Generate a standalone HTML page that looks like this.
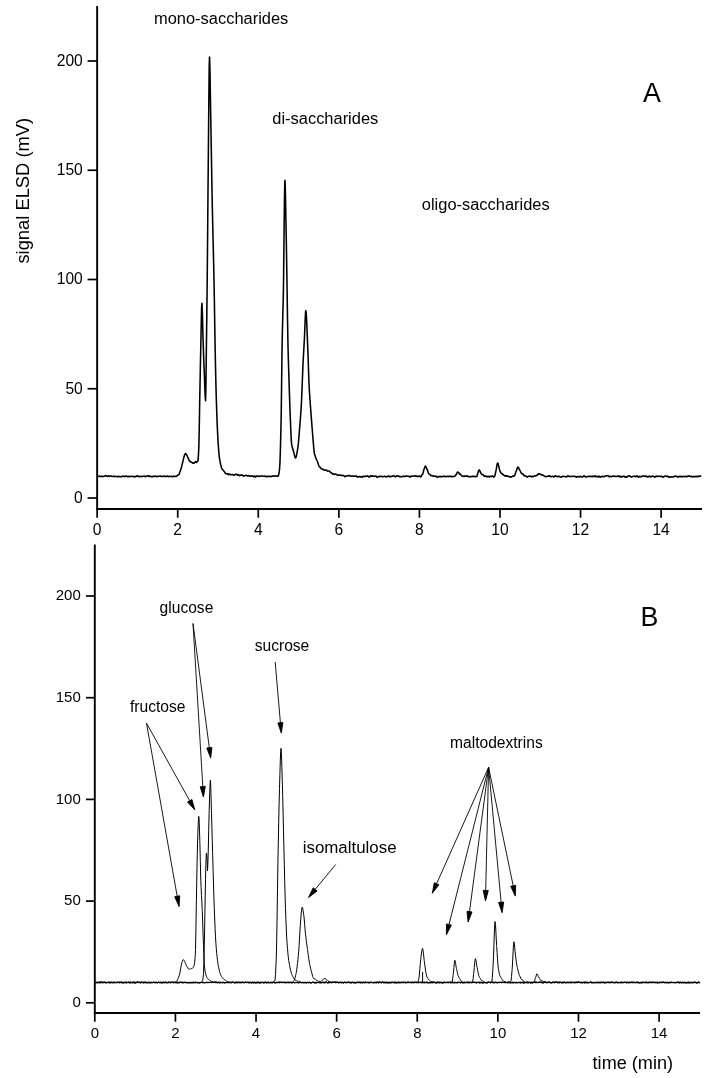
<!DOCTYPE html>
<html lang="en">
<head>
<meta charset="utf-8">
<title>ELSD chromatograms of saccharides</title>
<style>
  html, body { margin: 0; padding: 0; background: #fff; }
  body { width: 711px; height: 1078px; overflow: hidden; font-family: "Liberation Sans", Arial, sans-serif; }
  svg { display: block; }
</style>
</head>
<body>
<svg width="711" height="1078" viewBox="0 0 711 1078" role="img" aria-label="ELSD chromatograms A and B"><rect width="711" height="1078" fill="#fff"/><g font-family="'Liberation Sans', Arial, sans-serif" fill="#000"><g fill="none" stroke="#000" stroke-width="1.9"><path d="M97.15,6.0 V509.9" /><path d="M96.20,509.0 H702.0" /><path d="M97.15,509.0 v8.7" stroke-width="1.7"/><path d="M177.72,509.0 v8.7" stroke-width="1.7"/><path d="M258.28,509.0 v8.7" stroke-width="1.7"/><path d="M338.85,509.0 v8.7" stroke-width="1.7"/><path d="M419.42,509.0 v8.7" stroke-width="1.7"/><path d="M499.98,509.0 v8.7" stroke-width="1.7"/><path d="M580.55,509.0 v8.7" stroke-width="1.7"/><path d="M661.12,509.0 v8.7" stroke-width="1.7"/><path d="M97.15,498.00 h-9.6" stroke-width="1.7"/><path d="M97.15,388.75 h-9.6" stroke-width="1.7"/><path d="M97.15,279.50 h-9.6" stroke-width="1.7"/><path d="M97.15,170.25 h-9.6" stroke-width="1.7"/><path d="M97.15,61.00 h-9.6" stroke-width="1.7"/></g><g font-size="15.6"><text x="97.2" y="534.6" text-anchor="middle">0</text><text x="177.7" y="534.6" text-anchor="middle">2</text><text x="258.3" y="534.6" text-anchor="middle">4</text><text x="338.9" y="534.6" text-anchor="middle">6</text><text x="419.4" y="534.6" text-anchor="middle">8</text><text x="500.0" y="534.6" text-anchor="middle">10</text><text x="580.5" y="534.6" text-anchor="middle">12</text><text x="661.1" y="534.6" text-anchor="middle">14</text><text x="82.8" y="502.9" text-anchor="end">0</text><text x="82.8" y="393.6" text-anchor="end">50</text><text x="82.8" y="284.4" text-anchor="end">100</text><text x="82.8" y="175.2" text-anchor="end">150</text><text x="82.8" y="65.9" text-anchor="end">200</text></g><polyline fill="none" stroke="#000" stroke-width="1.55" stroke-linejoin="round" points="98.00,476.50 98.40,476.45 98.80,476.29 99.20,476.15 99.60,476.02 100.00,476.20 100.40,476.52 100.80,476.62 101.20,476.49 101.60,476.34 102.00,476.49 102.40,476.62 102.80,476.36 103.20,476.29 103.60,476.40 104.00,476.33 104.40,476.25 104.80,475.77 105.20,475.78 105.60,475.53 106.00,475.83 106.40,475.84 106.80,476.22 107.20,476.30 107.60,476.49 108.00,475.98 108.40,475.86 108.80,475.88 109.20,476.36 109.60,476.18 110.00,476.10 110.40,475.90 110.80,476.03 111.20,476.32 111.60,476.35 112.00,476.49 112.40,476.46 112.80,476.50 113.20,476.48 113.60,476.34 114.00,476.46 114.40,476.26 114.80,476.25 115.20,476.49 115.60,476.43 116.00,476.57 116.40,476.35 116.80,476.51 117.20,476.72 117.60,476.84 118.00,476.74 118.40,476.38 118.80,476.35 119.20,476.53 119.60,476.65 120.00,476.53 120.40,476.69 120.80,476.82 121.20,476.71 121.60,476.63 122.00,476.28 122.40,476.43 122.80,476.17 123.20,476.15 123.60,476.09 124.00,476.47 124.40,476.79 124.80,476.58 125.20,476.27 125.60,476.18 126.00,476.06 126.40,476.12 126.80,475.98 127.20,476.58 127.60,476.79 128.00,476.75 128.40,476.45 128.80,476.28 129.20,476.62 129.60,476.60 130.00,476.60 130.40,476.38 130.80,476.44 131.20,476.46 131.60,476.19 132.00,476.21 132.40,476.16 132.80,476.58 133.20,476.70 133.60,476.78 134.00,476.69 134.40,476.51 134.80,476.70 135.20,476.58 135.60,476.75 136.00,476.32 136.40,476.38 136.80,475.97 137.20,475.83 137.60,475.71 138.00,475.86 138.40,476.26 138.80,476.73 139.20,476.74 139.60,476.59 140.00,476.22 140.40,476.46 140.80,476.55 141.20,476.47 141.60,476.51 142.00,476.64 142.40,476.48 142.80,476.34 143.20,476.25 143.60,476.25 144.00,476.31 144.40,476.15 144.80,476.52 145.20,476.51 145.60,476.68 146.00,476.39 146.40,476.34 146.80,475.95 147.20,475.85 147.60,475.94 148.00,475.92 148.40,476.28 148.80,475.89 149.20,476.42 149.60,476.11 150.00,476.58 150.40,476.46 150.80,476.34 151.20,476.42 151.60,476.66 152.00,476.93 152.40,476.65 152.80,476.36 153.20,476.19 153.60,476.44 154.00,476.37 154.40,476.54 154.80,476.20 155.20,476.18 155.60,475.96 156.00,476.33 156.40,476.42 156.80,476.83 157.20,476.60 157.60,476.50 158.00,476.27 158.40,476.16 158.80,476.29 159.20,476.28 159.60,476.33 160.00,476.07 160.40,475.99 160.80,476.35 161.20,476.48 161.60,476.44 162.00,476.20 162.40,476.58 162.80,476.50 163.20,476.40 163.60,476.03 164.00,475.97 164.40,476.15 164.80,476.26 165.20,476.59 165.60,476.32 166.00,476.41 166.40,476.30 166.80,476.41 167.20,476.12 167.60,476.00 168.00,476.27 168.40,476.38 168.80,476.66 169.20,476.40 169.60,476.42 170.00,476.27 170.40,476.39 170.80,476.42 171.20,476.48 171.60,476.37 172.00,476.64 172.40,476.79 172.80,476.84 173.20,476.49 173.60,476.08 174.00,476.14 174.40,476.37 174.80,476.53 175.20,476.38 175.60,476.27 176.00,476.36 176.40,476.34 176.50,476.09 176.80,476.11 177.20,475.50 177.60,475.44 178.00,474.88 178.40,474.83 178.80,474.53 179.20,474.16 179.50,473.36 179.60,472.54 180.00,471.60 180.40,470.56 180.80,469.62 181.20,468.25 181.60,466.72 182.00,464.92 182.40,463.23 182.80,461.72 183.20,460.18 183.60,458.39 184.00,456.79 184.20,456.02 184.40,455.51 184.80,454.56 185.20,453.77 185.60,453.43 185.80,453.53 186.00,453.99 186.40,454.30 186.80,455.11 187.20,455.83 187.50,456.48 187.60,456.82 188.00,457.63 188.40,458.66 188.80,459.47 189.20,460.70 189.60,460.99 190.00,461.53 190.40,461.48 190.80,462.06 191.20,461.94 191.60,462.14 192.00,462.51 192.40,462.94 192.80,463.15 193.20,463.00 193.60,463.21 194.00,463.14 194.40,462.72 194.80,462.30 195.20,461.84 195.50,461.57 195.60,461.57 196.00,462.06 196.40,462.51 196.80,462.18 197.20,461.45 197.60,461.23 197.80,461.21 198.00,460.53 198.40,455.64 198.80,448.16 199.20,431.40 199.60,407.42 199.70,402.04 200.00,386.06 200.40,365.19 200.80,345.93 201.20,326.37 201.60,308.47 201.90,303.39 202.00,303.72 202.40,313.96 202.80,330.07 203.00,337.19 203.20,343.30 203.60,355.13 204.00,366.37 204.30,373.68 204.40,376.08 204.80,386.92 205.20,396.87 205.60,400.66 206.00,380.64 206.40,345.87 206.80,316.01 207.10,290.70 207.20,281.22 207.60,237.51 208.00,191.44 208.20,170.56 208.40,148.71 208.80,102.93 209.20,66.80 209.50,57.08 209.60,57.62 210.00,71.63 210.40,96.05 210.80,120.46 211.20,142.91 211.60,166.72 212.00,190.11 212.20,200.84 212.40,210.60 212.80,228.08 213.20,244.60 213.60,261.84 214.00,280.50 214.20,290.85 214.40,302.19 214.80,328.18 215.10,345.87 215.20,351.17 215.60,370.53 216.00,387.56 216.40,401.60 216.80,413.69 217.20,424.05 217.60,433.02 217.90,438.36 218.00,440.45 218.40,446.44 218.80,451.91 219.20,456.13 219.40,457.78 219.60,458.91 220.00,461.11 220.40,463.27 220.80,464.97 221.20,466.46 221.60,467.92 222.00,468.94 222.40,469.60 222.80,469.74 223.20,470.46 223.60,470.81 224.00,471.25 224.40,471.81 224.70,472.12 224.80,472.59 225.20,472.92 225.60,473.41 226.00,473.57 226.40,473.88 226.80,474.02 227.20,474.01 227.60,473.58 228.00,473.78 228.40,474.28 228.80,474.81 229.20,474.70 229.40,474.30 229.60,474.05 230.00,474.31 230.40,474.46 230.80,474.62 231.20,474.65 231.60,474.65 232.00,474.63 232.40,474.63 232.80,474.68 233.20,474.80 233.60,475.12 234.00,475.26 234.40,475.19 234.80,474.55 235.20,474.53 235.60,474.18 236.00,474.25 236.40,474.36 236.80,474.88 237.20,475.14 237.60,474.70 238.00,474.55 238.40,474.49 238.80,474.97 239.20,475.49 239.60,475.71 240.00,475.50 240.40,474.92 240.80,474.92 241.20,475.08 241.60,475.13 242.00,475.21 242.40,475.08 242.80,475.54 243.20,475.75 243.60,476.20 244.00,475.94 244.20,475.86 244.40,475.65 244.80,475.69 245.20,475.57 245.60,475.38 246.00,475.22 246.40,475.45 246.80,475.69 247.20,476.02 247.60,476.08 248.00,475.83 248.40,475.67 248.80,475.54 249.20,475.96 249.60,476.06 250.00,476.24 250.40,476.22 250.80,476.09 251.20,475.75 251.60,475.88 252.00,476.21 252.40,476.05 252.80,476.17 253.20,476.21 253.60,476.81 254.00,476.51 254.40,476.36 254.80,475.91 255.00,476.45 255.20,476.48 255.60,476.99 256.00,476.41 256.40,476.48 256.80,475.89 257.20,475.95 257.60,476.11 258.00,476.19 258.40,476.47 258.80,476.36 259.20,476.40 259.60,476.12 260.00,475.98 260.40,476.17 260.80,476.17 261.20,476.11 261.60,476.07 262.00,475.99 262.40,475.91 262.80,475.96 263.20,476.32 263.60,476.28 264.00,476.29 264.40,476.02 264.80,476.12 265.20,476.28 265.60,476.31 266.00,476.77 266.40,476.47 266.80,476.64 267.20,476.33 267.60,476.33 268.00,476.37 268.40,476.39 268.80,476.64 269.20,476.52 269.60,476.35 270.00,476.22 270.40,476.24 270.80,476.62 271.20,476.47 271.60,476.45 272.00,475.95 272.40,476.24 272.80,476.04 273.20,476.02 273.60,475.89 274.00,476.28 274.40,476.32 274.80,476.12 275.20,475.77 275.60,475.83 276.00,476.09 276.40,476.06 276.80,476.12 277.20,476.14 277.60,476.13 278.00,476.32 278.30,476.01 278.40,475.86 278.80,474.10 279.20,471.89 279.60,468.40 280.00,461.81 280.40,449.45 280.80,433.86 281.10,420.48 281.20,415.53 281.60,384.60 282.00,352.15 282.10,345.49 282.40,331.01 282.80,315.95 283.20,300.31 283.40,290.56 283.60,276.75 284.00,239.62 284.40,202.93 284.80,181.19 284.90,180.28 285.20,184.58 285.60,202.41 286.00,224.50 286.20,235.39 286.40,245.86 286.80,270.85 287.10,290.25 287.20,297.01 287.60,323.88 288.00,346.07 288.40,360.99 288.80,373.60 289.10,382.82 289.20,386.25 289.60,398.54 290.00,409.87 290.40,420.11 290.80,429.89 291.20,438.88 291.50,443.12 291.60,443.85 292.00,445.99 292.40,447.52 292.80,448.93 293.20,450.24 293.60,451.59 294.00,453.07 294.40,454.95 294.80,456.40 295.20,457.68 295.60,457.94 296.00,457.35 296.40,455.84 296.80,453.93 297.20,451.64 297.60,449.33 297.80,448.09 298.00,446.53 298.40,442.91 298.80,438.31 299.20,433.63 299.60,428.58 299.70,427.20 300.00,423.60 300.40,418.51 300.80,413.26 301.20,406.91 301.50,401.57 301.60,399.48 302.00,390.10 302.40,379.31 302.80,369.08 303.00,364.34 303.20,360.40 303.60,352.93 304.00,346.06 304.40,338.68 304.50,336.84 304.80,329.55 305.20,319.12 305.60,311.45 305.80,310.63 306.00,311.29 306.40,315.91 306.80,323.89 307.20,333.75 307.60,343.95 307.70,346.38 308.00,353.99 308.40,366.57 308.80,378.60 309.00,383.75 309.20,387.59 309.60,393.97 310.00,399.97 310.40,405.44 310.80,410.73 311.20,416.13 311.60,421.21 312.00,426.57 312.40,431.30 312.80,436.49 313.00,438.90 313.20,441.34 313.60,446.14 314.00,450.79 314.40,453.84 314.50,453.98 314.80,454.68 315.20,455.92 315.60,457.15 316.00,458.38 316.40,459.36 316.80,460.29 317.20,460.97 317.30,461.18 317.60,461.90 318.00,463.23 318.40,464.54 318.80,465.53 319.20,466.33 319.60,467.01 320.00,467.36 320.10,467.23 320.40,467.58 320.80,468.13 321.20,468.83 321.60,468.72 322.00,468.94 322.40,469.01 322.80,469.37 323.20,469.19 323.60,469.37 323.80,469.74 324.00,470.27 324.40,470.29 324.80,470.18 325.20,470.30 325.60,469.94 326.00,469.95 326.40,469.95 326.80,470.62 327.20,470.99 327.60,471.15 328.00,471.15 328.40,470.97 328.80,471.03 329.20,471.07 329.60,471.26 330.00,471.57 330.40,472.35 330.80,472.66 331.20,472.82 331.60,472.83 332.00,473.41 332.40,473.68 332.80,474.14 333.10,473.84 333.20,473.84 333.60,473.67 334.00,474.12 334.40,474.47 334.80,474.34 335.20,474.14 335.60,474.11 336.00,474.36 336.40,474.33 336.80,474.54 337.20,474.83 337.60,475.27 338.00,475.06 338.40,475.21 338.60,475.11 338.80,475.42 339.20,475.12 339.60,475.06 340.00,474.94 340.40,475.03 340.80,475.35 341.20,475.41 341.60,475.41 342.00,475.34 342.40,475.27 342.80,475.65 343.20,475.56 343.60,475.58 344.00,475.66 344.40,476.23 344.80,476.71 345.20,476.53 345.60,476.19 346.00,476.13 346.40,476.13 346.80,475.93 347.20,475.70 347.60,475.83 348.00,475.89 348.40,475.59 348.80,475.26 349.20,475.56 349.60,475.75 350.00,476.01 350.40,475.95 350.80,476.22 351.20,476.21 351.60,476.28 352.00,476.03 352.40,476.05 352.80,475.79 353.20,476.18 353.60,476.26 354.00,476.34 354.40,476.08 354.80,476.07 355.20,476.35 355.60,476.14 356.00,476.01 356.40,475.83 356.80,476.60 357.20,476.97 357.60,477.03 358.00,476.71 358.40,476.92 358.80,476.91 359.20,476.71 359.60,476.56 360.00,476.70 360.40,476.89 360.80,476.57 361.20,476.83 361.60,477.02 362.00,477.22 362.40,476.99 362.80,476.31 363.20,476.32 363.60,476.16 364.00,476.61 364.40,476.62 364.80,476.59 365.20,476.20 365.60,476.14 366.00,476.07 366.40,476.32 366.80,476.14 367.20,476.22 367.60,475.85 368.00,476.19 368.40,476.30 368.80,476.92 369.20,477.06 369.60,477.02 370.00,476.49 370.40,475.96 370.80,475.73 371.20,475.97 371.60,476.15 372.00,476.01 372.40,476.16 372.80,475.87 373.20,476.29 373.60,476.21 374.00,476.43 374.40,476.36 374.80,476.28 375.20,476.23 375.60,475.93 376.00,476.02 376.40,476.47 376.80,477.15 377.20,477.39 377.60,477.18 378.00,476.70 378.40,476.72 378.80,476.58 379.20,476.69 379.60,476.37 380.00,476.40 380.40,476.33 380.80,476.37 381.20,476.16 381.60,476.17 382.00,476.60 382.40,476.79 382.80,476.81 383.20,476.49 383.60,476.63 384.00,476.47 384.40,476.34 384.80,476.38 385.20,476.63 385.60,476.69 386.00,476.81 386.40,476.63 386.80,476.63 387.20,476.25 387.60,476.64 388.00,476.27 388.40,476.24 388.80,475.87 389.20,476.35 389.60,476.59 390.00,476.94 390.40,476.53 390.80,476.55 391.20,476.25 391.60,476.41 392.00,476.37 392.40,476.26 392.80,476.00 393.20,475.83 393.60,475.73 394.00,475.99 394.40,476.12 394.80,476.46 395.20,476.87 395.60,476.76 396.00,476.42 396.40,475.99 396.80,475.86 397.20,475.92 397.60,476.14 398.00,476.19 398.40,476.05 398.80,476.10 399.20,476.19 399.60,476.62 400.00,476.51 400.40,476.65 400.80,476.59 401.20,476.80 401.60,476.76 402.00,476.83 402.40,476.67 402.80,476.33 403.20,476.23 403.60,476.11 404.00,476.41 404.40,476.19 404.80,476.54 405.20,476.52 405.60,476.55 406.00,475.93 406.40,475.86 406.80,476.07 407.20,476.25 407.60,476.32 408.00,476.22 408.40,476.45 408.80,476.30 409.20,476.41 409.60,476.49 410.00,477.09 410.40,476.92 410.80,476.65 411.20,476.03 411.60,476.35 412.00,476.23 412.40,476.29 412.80,476.15 413.20,476.18 413.60,476.09 414.00,476.01 414.40,475.80 414.80,475.71 415.20,475.72 415.60,476.14 416.00,476.37 416.40,476.12 416.80,476.01 417.20,476.19 417.60,476.61 418.00,476.68 418.40,476.37 418.80,476.39 419.20,476.30 419.60,476.25 420.00,475.98 420.40,476.35 420.50,476.61 420.80,476.88 421.20,476.20 421.60,475.80 422.00,474.82 422.40,474.16 422.50,474.27 422.80,473.82 423.20,472.47 423.60,470.56 424.00,469.15 424.30,468.72 424.40,468.44 424.80,467.22 425.20,466.27 425.60,466.08 426.00,466.76 426.40,467.84 426.80,468.84 427.00,469.40 427.20,469.38 427.60,470.45 428.00,471.71 428.40,473.03 428.80,473.72 429.00,473.67 429.20,474.11 429.60,474.37 430.00,474.75 430.40,474.88 430.80,475.50 431.20,475.67 431.50,475.76 431.60,475.61 432.00,475.83 432.40,475.86 432.80,475.81 433.20,475.88 433.60,476.15 434.00,476.25 434.40,476.27 434.80,476.28 435.20,476.30 435.60,476.40 436.00,476.09 436.40,476.50 436.80,476.89 437.20,477.45 437.60,477.20 438.00,476.92 438.40,476.57 438.80,476.63 439.20,476.77 439.60,476.51 440.00,476.69 440.40,476.39 440.80,476.89 441.20,476.73 441.60,476.62 442.00,476.41 442.40,476.51 442.80,476.64 443.20,476.68 443.60,476.45 444.00,476.05 444.40,476.13 444.80,476.35 445.20,476.77 445.60,476.62 446.00,476.68 446.40,476.57 446.80,476.43 447.20,476.20 447.60,476.50 448.00,476.38 448.40,476.63 448.80,476.30 449.20,476.35 449.60,476.36 450.00,476.46 450.40,476.42 450.80,476.13 451.20,476.32 451.60,476.77 452.00,476.76 452.40,476.66 452.80,476.58 453.20,476.54 453.60,476.53 454.00,476.39 454.40,476.41 454.50,476.26 454.80,476.18 455.20,475.93 455.60,475.41 456.00,474.77 456.40,474.19 456.80,473.27 457.20,472.53 457.60,472.00 457.70,472.04 458.00,472.39 458.40,472.39 458.80,472.96 459.20,473.03 459.50,473.88 459.60,474.15 460.00,474.30 460.40,474.25 460.80,474.49 461.20,475.35 461.50,475.85 461.60,475.77 462.00,475.89 462.40,476.04 462.80,476.19 463.20,476.41 463.60,475.96 464.00,476.14 464.40,475.79 464.80,476.40 465.20,476.27 465.60,476.31 466.00,476.23 466.40,476.12 466.80,476.13 467.20,475.79 467.60,475.96 468.00,476.23 468.40,476.71 468.80,476.69 469.20,476.80 469.60,476.62 470.00,476.63 470.40,476.54 470.80,476.73 471.20,476.69 471.60,476.54 472.00,476.31 472.40,476.39 472.80,476.27 473.20,476.49 473.60,476.40 474.00,476.65 474.40,476.31 474.80,476.45 475.20,476.44 475.60,476.51 476.00,476.82 476.40,476.57 476.80,476.36 477.20,475.40 477.40,474.83 477.60,473.97 478.00,472.54 478.40,471.27 478.80,470.39 479.00,470.12 479.20,469.86 479.60,470.41 480.00,470.95 480.40,472.23 480.60,472.48 480.80,473.04 481.20,473.52 481.60,474.25 482.00,474.59 482.40,474.65 482.50,474.47 482.80,474.52 483.20,474.87 483.60,475.53 484.00,475.85 484.40,476.26 484.80,475.80 485.00,476.07 485.20,475.92 485.60,476.20 486.00,476.29 486.40,476.70 486.80,476.78 487.20,476.73 487.60,476.26 488.00,476.35 488.40,476.30 488.80,476.65 489.20,476.54 489.60,476.91 490.00,476.40 490.40,476.35 490.80,476.19 491.20,476.49 491.60,476.40 492.00,476.19 492.40,476.00 492.80,476.17 493.20,476.67 493.60,477.13 494.00,476.90 494.40,476.30 494.50,476.01 494.80,475.94 495.20,474.33 495.60,472.26 495.80,471.34 496.00,470.73 496.40,468.60 496.80,465.99 497.20,463.80 497.60,463.03 498.00,463.30 498.40,464.89 498.80,466.38 499.20,468.27 499.30,468.77 499.60,469.96 500.00,470.88 500.40,471.85 500.80,472.78 501.00,473.18 501.20,473.12 501.60,473.39 502.00,473.67 502.40,474.49 502.80,474.38 503.20,474.72 503.50,474.56 503.60,475.00 504.00,475.41 504.40,475.66 504.80,475.81 505.20,476.12 505.60,475.79 506.00,475.92 506.40,475.66 506.80,476.13 507.00,476.18 507.20,476.16 507.60,476.05 508.00,476.18 508.40,476.43 508.80,476.45 509.20,476.70 509.60,477.07 510.00,476.94 510.40,476.64 510.80,476.68 511.20,477.10 511.60,477.09 512.00,476.60 512.40,476.34 512.80,476.22 513.20,476.09 513.60,476.24 514.00,476.09 514.40,475.97 514.50,475.58 514.80,475.26 515.20,474.05 515.60,472.77 516.00,471.53 516.20,471.17 516.40,470.75 516.80,469.41 517.20,468.22 517.60,467.31 517.90,466.98 518.00,467.13 518.40,467.36 518.80,468.42 519.20,469.18 519.60,470.06 520.00,470.50 520.40,471.19 520.80,472.16 521.20,472.82 521.50,473.56 521.60,473.50 522.00,473.64 522.40,473.70 522.80,473.82 523.20,474.53 523.60,475.10 524.00,475.76 524.40,475.65 524.80,475.43 525.20,475.75 525.60,476.15 526.00,476.37 526.40,476.32 526.80,476.77 527.20,477.06 527.60,476.93 528.00,476.58 528.40,476.48 528.80,476.36 529.20,476.12 529.60,476.04 530.00,476.00 530.40,476.20 530.80,476.22 531.20,476.84 531.60,476.70 532.00,476.68 532.40,476.23 532.80,476.47 533.20,476.69 533.60,476.63 534.00,476.40 534.40,475.88 534.80,475.72 535.20,475.85 535.60,476.01 536.00,475.83 536.40,475.48 536.80,475.29 537.00,475.48 537.20,475.33 537.60,474.99 538.00,474.22 538.40,473.80 538.80,473.90 539.20,473.73 539.60,473.94 540.00,473.84 540.40,474.39 540.80,474.53 541.20,474.70 541.50,474.89 541.60,475.06 542.00,474.87 542.40,474.98 542.80,474.98 543.20,475.36 543.60,475.55 544.00,475.93 544.40,476.28 544.80,476.22 545.00,476.29 545.20,476.36 545.60,476.70 546.00,476.83 546.40,476.62 546.80,476.41 547.20,476.34 547.60,476.15 548.00,476.25 548.40,476.02 548.80,476.23 549.20,475.89 549.60,475.85 550.00,475.93 550.40,476.42 550.80,476.78 551.20,476.77 551.60,476.58 552.00,476.25 552.40,476.34 552.80,476.33 553.20,476.59 553.60,476.84 554.00,476.88 554.40,476.49 554.80,476.01 555.20,475.75 555.60,475.81 556.00,476.20 556.40,476.51 556.80,476.45 557.20,476.33 557.60,476.52 558.00,476.73 558.40,476.49 558.80,476.20 559.20,476.32 559.60,476.56 560.00,476.84 560.40,477.01 560.80,477.11 561.20,477.14 561.60,477.04 562.00,476.54 562.40,476.27 562.80,476.20 563.20,476.41 563.60,476.60 564.00,476.48 564.40,476.38 564.80,476.48 565.20,476.67 565.60,476.88 566.00,476.78 566.40,476.85 566.80,476.88 567.20,476.26 567.60,475.94 568.00,475.79 568.40,476.06 568.80,476.22 569.20,476.52 569.60,476.62 570.00,476.37 570.40,476.52 570.80,476.53 571.20,476.51 571.60,476.18 572.00,476.35 572.40,476.44 572.80,476.54 573.20,476.38 573.60,476.34 574.00,476.22 574.40,476.45 574.80,476.51 575.20,476.54 575.60,476.38 576.00,477.01 576.40,476.82 576.80,477.09 577.20,476.56 577.60,476.67 578.00,476.55 578.40,476.72 578.80,476.98 579.20,476.91 579.60,476.63 580.00,476.30 580.40,476.33 580.80,476.55 581.20,476.91 581.60,476.89 582.00,476.98 582.40,477.00 582.80,476.95 583.20,476.49 583.60,475.99 584.00,475.70 584.40,476.26 584.80,476.32 585.20,476.81 585.60,476.63 586.00,477.10 586.40,477.06 586.80,476.93 587.20,476.58 587.60,476.41 588.00,476.46 588.40,476.40 588.80,476.38 589.20,476.64 589.60,476.43 590.00,476.48 590.40,476.02 590.80,476.37 591.20,476.47 591.60,476.63 592.00,476.74 592.40,476.29 592.80,476.50 593.20,476.25 593.60,476.66 594.00,476.49 594.40,476.12 594.80,475.87 595.20,475.88 595.60,476.64 596.00,476.83 596.40,476.83 596.80,476.29 597.20,476.50 597.60,476.78 598.00,477.05 598.40,476.75 598.80,476.12 599.20,476.27 599.60,476.81 600.00,477.24 600.40,477.31 600.80,476.91 601.20,476.60 601.60,476.61 602.00,476.29 602.40,476.43 602.80,476.24 603.20,476.62 603.60,476.74 604.00,476.76 604.40,476.46 604.80,476.14 605.20,476.09 605.60,476.09 606.00,476.09 606.40,475.85 606.80,475.89 607.20,475.79 607.60,475.77 608.00,475.56 608.40,475.94 608.80,476.26 609.20,476.93 609.60,476.62 610.00,476.42 610.40,476.22 610.80,476.45 611.20,476.52 611.60,476.66 612.00,476.64 612.40,476.49 612.80,475.93 613.20,476.06 613.60,476.33 614.00,476.32 614.40,476.07 614.80,476.12 615.20,476.47 615.60,476.54 616.00,476.55 616.40,476.55 616.80,476.34 617.20,476.17 617.60,476.14 618.00,476.36 618.40,476.03 618.80,475.90 619.20,476.14 619.60,476.83 620.00,476.48 620.40,476.82 620.80,476.32 621.20,476.90 621.60,476.65 622.00,477.03 622.40,476.88 622.80,476.44 623.20,476.38 623.60,476.22 624.00,475.97 624.40,476.38 624.80,476.64 625.20,477.43 625.60,476.75 626.00,476.89 626.40,476.84 626.80,477.30 627.20,477.02 627.60,476.51 628.00,476.19 628.40,475.79 628.80,475.70 629.20,475.75 629.60,475.97 630.00,476.25 630.40,476.22 630.80,476.75 631.20,477.02 631.60,477.03 632.00,476.90 632.40,476.52 632.80,476.47 633.20,476.41 633.60,476.33 634.00,476.34 634.40,475.93 634.80,476.18 635.20,476.53 635.60,476.63 636.00,476.65 636.40,476.19 636.80,476.12 637.20,475.85 637.60,476.28 638.00,476.92 638.40,477.24 638.80,476.84 639.20,476.54 639.60,476.39 640.00,476.66 640.40,476.59 640.80,476.70 641.20,476.67 641.60,476.51 642.00,476.38 642.40,475.95 642.80,475.98 643.20,475.79 643.60,476.08 644.00,475.99 644.40,476.27 644.80,476.38 645.20,476.29 645.60,476.12 646.00,475.87 646.40,476.26 646.80,476.73 647.20,477.06 647.60,476.85 648.00,476.81 648.40,476.38 648.80,476.72 649.20,476.33 649.60,476.09 650.00,476.31 650.40,476.72 650.80,477.04 651.20,476.58 651.60,476.25 652.00,476.46 652.40,476.16 652.80,476.07 653.20,476.14 653.60,476.45 654.00,476.80 654.40,476.73 654.80,477.12 655.20,476.76 655.60,476.80 656.00,476.02 656.40,475.92 656.80,476.11 657.20,476.29 657.60,476.62 658.00,476.36 658.40,476.34 658.80,476.18 659.20,476.10 659.60,476.20 660.00,476.40 660.40,476.62 660.80,476.60 661.20,476.30 661.60,476.23 662.00,476.32 662.40,476.67 662.80,477.11 663.20,477.28 663.60,477.08 664.00,476.57 664.40,476.26 664.80,476.10 665.20,475.94 665.60,476.03 666.00,476.12 666.40,476.44 666.80,476.43 667.20,476.48 667.60,476.12 668.00,476.49 668.40,476.62 668.80,477.17 669.20,477.02 669.60,477.20 670.00,476.82 670.40,476.81 670.80,477.03 671.20,476.85 671.60,476.94 672.00,476.75 672.40,477.05 672.80,476.98 673.20,476.90 673.60,476.70 674.00,476.64 674.40,476.24 674.80,476.24 675.20,476.04 675.60,476.18 676.00,476.33 676.40,476.54 676.80,476.30 677.20,476.64 677.60,476.77 678.00,477.17 678.40,476.74 678.80,476.50 679.20,476.47 679.60,476.61 680.00,476.31 680.40,476.35 680.80,476.82 681.20,476.79 681.60,476.84 682.00,476.36 682.40,476.69 682.80,476.76 683.20,476.46 683.60,476.52 684.00,476.53 684.40,476.72 684.80,476.61 685.20,476.36 685.60,476.31 686.00,476.68 686.40,476.49 686.80,476.73 687.20,476.21 687.60,476.50 688.00,476.32 688.40,476.07 688.80,475.94 689.20,475.76 689.60,476.16 690.00,476.46 690.40,476.45 690.80,476.33 691.20,476.31 691.60,476.54 692.00,477.03 692.40,476.82 692.80,476.64 693.20,476.33 693.60,476.50 694.00,476.85 694.40,476.86 694.80,476.64 695.20,476.44 695.60,476.33 696.00,476.68 696.40,476.71 696.80,476.60 697.20,476.15 697.60,476.28 698.00,476.62 698.40,476.68 698.80,476.42 699.20,476.30 699.60,476.01 700.00,475.89 700.40,476.04 700.80,476.26 701.00,476.51"/><g font-size="16.45"><text x="154" y="24.1">mono-saccharides</text><text x="272.3" y="124">di-saccharides</text><text x="421.8" y="210">oligo-saccharides</text></g><text x="643" y="101.8" font-size="26.8">A</text><text transform="translate(28.8,263.6) rotate(-90)" font-size="18.35">signal ELSD (mV)</text><g fill="none" stroke="#000" stroke-width="1.9"><path d="M94.80,544.5 V1014.0" /><path d="M93.85,1013.0 H700.0" /><path d="M94.80,1013.0 v8.7" stroke-width="1.7"/><path d="M175.41,1013.0 v8.7" stroke-width="1.7"/><path d="M256.03,1013.0 v8.7" stroke-width="1.7"/><path d="M336.64,1013.0 v8.7" stroke-width="1.7"/><path d="M417.25,1013.0 v8.7" stroke-width="1.7"/><path d="M497.87,1013.0 v8.7" stroke-width="1.7"/><path d="M578.48,1013.0 v8.7" stroke-width="1.7"/><path d="M659.09,1013.0 v8.7" stroke-width="1.7"/><path d="M94.80,1002.80 h-8.8" stroke-width="1.7"/><path d="M94.80,901.10 h-8.8" stroke-width="1.7"/><path d="M94.80,799.40 h-8.8" stroke-width="1.7"/><path d="M94.80,697.70 h-8.8" stroke-width="1.7"/><path d="M94.80,596.00 h-8.8" stroke-width="1.7"/></g><g font-size="15.0"><text x="94.8" y="1038.3" text-anchor="middle">0</text><text x="175.4" y="1038.3" text-anchor="middle">2</text><text x="256.0" y="1038.3" text-anchor="middle">4</text><text x="336.6" y="1038.3" text-anchor="middle">6</text><text x="417.3" y="1038.3" text-anchor="middle">8</text><text x="497.9" y="1038.3" text-anchor="middle">10</text><text x="578.5" y="1038.3" text-anchor="middle">12</text><text x="659.1" y="1038.3" text-anchor="middle">14</text><text x="80.8" y="1006.9" text-anchor="end">0</text><text x="80.8" y="905.2" text-anchor="end">50</text><text x="80.8" y="803.5" text-anchor="end">100</text><text x="80.8" y="701.8" text-anchor="end">150</text><text x="80.8" y="600.1" text-anchor="end">200</text></g><polyline fill="none" stroke="#000" stroke-width="1" stroke-linejoin="round" points="95.50,982.73 95.90,982.82 96.30,982.77 96.70,982.90 97.10,982.91 97.50,982.85 97.90,982.65 98.30,982.61 98.70,982.54 99.10,982.45 99.50,982.36 99.90,982.20 100.30,982.17 100.70,982.15 101.10,982.37 101.50,982.16 101.90,982.15 102.30,982.21 102.70,982.46 103.10,982.35 103.50,982.44 103.90,982.25 104.30,982.38 104.70,982.48 105.10,982.56 105.50,982.51 105.90,982.48 106.30,982.53 106.70,982.56 107.10,982.43 107.50,982.64 107.90,982.37 108.30,982.21 108.70,981.92 109.10,982.08 109.50,982.08 109.90,982.10 110.30,982.30 110.70,982.29 111.10,982.43 111.50,982.45 111.90,982.47 112.30,982.47 112.70,982.65 113.10,982.80 113.50,982.69 113.90,982.45 114.30,982.27 114.70,982.40 115.10,982.53 115.50,982.55 115.90,982.48 116.30,982.51 116.70,982.56 117.10,982.61 117.50,982.31 117.90,982.26 118.30,982.16 118.70,982.61 119.10,982.67 119.50,982.67 119.90,982.29 120.30,982.32 120.70,982.49 121.10,982.60 121.50,982.91 121.90,982.84 122.30,983.02 122.70,982.77 123.10,982.83 123.50,982.42 123.90,982.36 124.30,982.27 124.70,982.44 125.10,982.15 125.50,982.29 125.90,982.27 126.30,982.51 126.70,982.35 127.10,982.37 127.50,982.49 127.90,982.35 128.30,982.25 128.70,982.23 129.10,982.43 129.50,982.51 129.90,982.39 130.30,982.25 130.70,982.29 131.10,982.54 131.50,982.51 131.90,982.73 132.30,982.68 132.70,982.77 133.10,982.66 133.50,982.34 133.90,982.16 134.30,981.87 134.70,982.02 135.10,982.22 135.50,982.32 135.90,982.40 136.30,982.14 136.70,982.28 137.10,982.07 137.50,982.28 137.90,982.15 138.30,982.19 138.70,982.09 139.10,982.01 139.50,982.17 139.90,982.44 140.30,982.66 140.70,982.52 141.10,982.33 141.50,982.12 141.90,982.32 142.30,982.15 142.70,982.45 143.10,982.32 143.50,982.50 143.90,982.37 144.30,982.58 144.70,982.74 145.10,982.84 145.50,982.71 145.90,982.84 146.30,982.87 146.70,982.83 147.10,982.86 147.50,982.71 147.90,982.74 148.30,982.41 148.70,982.34 149.10,982.44 149.50,982.38 149.90,982.52 150.30,982.46 150.70,982.68 151.10,982.28 151.50,982.22 151.90,982.27 152.30,982.47 152.70,982.50 153.10,982.07 153.50,982.27 153.90,982.17 154.30,982.62 154.70,982.27 155.10,982.46 155.50,982.31 155.90,982.68 156.30,982.45 156.70,982.40 157.10,982.60 157.50,982.61 157.90,982.60 158.30,982.25 158.70,982.22 159.10,982.48 159.50,982.77 159.90,982.81 160.30,982.40 160.70,982.32 161.10,982.58 161.50,982.93 161.90,982.93 162.30,982.66 162.70,982.52 163.10,982.16 163.50,982.08 163.90,982.25 164.30,982.34 164.70,982.86 165.10,982.74 165.50,982.74 165.90,982.53 166.30,982.77 166.70,982.93 167.10,982.65 167.50,982.45 167.90,982.57 168.30,982.68 168.70,982.52 169.10,982.46 169.50,982.55 169.90,982.51 170.30,982.31 170.70,982.19 171.10,982.38 171.50,982.45 171.90,982.72 172.00,982.78 172.30,982.54 172.70,982.42 173.10,982.41 173.50,982.66 173.90,982.69 174.30,982.42 174.70,982.15 175.10,982.05 175.50,981.88 175.90,981.61 176.00,981.59 176.30,981.49 176.70,981.39 177.10,980.50 177.50,979.71 177.90,978.74 178.30,977.93 178.70,977.12 179.10,975.84 179.50,974.84 179.90,973.03 180.30,971.02 180.70,968.54 181.10,966.24 181.50,964.05 181.80,963.03 181.90,962.60 182.30,961.53 182.70,960.15 183.10,959.76 183.30,959.56 183.50,959.74 183.90,959.87 184.30,960.80 184.70,961.36 185.00,962.00 185.10,962.30 185.50,963.33 185.90,964.39 186.30,965.45 186.70,966.35 187.00,966.75 187.10,966.69 187.50,967.10 187.90,967.98 188.30,968.60 188.70,969.13 189.10,969.19 189.50,969.16 189.90,969.21 190.30,969.09 190.70,969.03 191.10,968.59 191.50,968.49 191.90,968.15 192.00,968.34 192.30,968.26 192.70,967.81 193.10,967.46 193.50,966.76 193.90,966.01 194.30,964.69 194.70,962.19 195.10,957.75 195.30,954.75 195.50,949.41 195.90,929.18 196.30,905.58 196.40,900.51 196.70,884.20 197.10,861.98 197.50,844.95 197.90,832.51 198.30,822.22 198.70,816.47 198.80,816.33 199.10,819.58 199.50,830.79 199.80,840.29 199.90,843.53 200.30,860.44 200.70,877.02 200.80,880.20 201.10,887.46 201.50,895.47 201.90,902.69 202.20,909.37 202.30,911.61 202.70,922.94 203.10,934.88 203.30,940.21 203.50,945.31 203.90,955.49 204.30,963.46 204.40,965.16 204.70,968.09 205.10,971.28 205.50,973.10 205.90,974.73 206.00,975.00 206.30,976.22 206.70,977.04 207.10,977.85 207.50,978.32 207.90,978.84 208.30,979.21 208.50,979.32 208.70,979.31 209.10,979.73 209.50,980.14 209.90,980.68 210.30,980.65 210.70,980.99 211.10,981.27 211.50,981.75 211.90,981.85 212.00,981.77 212.30,981.80 212.70,981.66 213.10,981.81 213.50,981.76 213.90,981.87 214.30,982.11 214.70,982.20 215.10,982.25 215.50,982.11 215.90,982.20 216.30,982.15 216.70,982.16 217.10,982.15 217.50,982.23 217.90,982.32 218.30,982.27 218.70,982.65 219.10,982.87 219.50,983.02 219.90,982.74 220.00,982.86 220.30,982.84 220.70,982.84 221.10,982.58 221.50,982.57 221.90,982.78 222.30,982.74 222.70,982.99 223.10,982.67 223.50,982.77 223.90,982.33 224.30,982.71 224.70,982.57 225.10,982.70 225.50,982.57 225.90,982.80 226.30,982.65 226.70,982.47 227.10,982.10 227.50,982.28 227.90,982.31 228.30,982.46 228.70,982.34 229.10,982.30 229.50,982.25 229.90,982.42 230.30,982.68 230.70,982.52 231.10,982.43 231.50,982.15 231.90,982.49 232.30,982.38 232.70,982.42 233.10,982.20 233.50,982.43 233.90,982.47 234.30,982.59 234.70,982.54 235.10,982.49 235.50,982.30 235.90,982.33 236.30,982.41 236.70,982.60 237.10,982.66 237.50,982.79 237.90,982.66 238.30,982.41 238.70,982.45 239.10,982.81 239.50,982.81 239.90,982.43 240.30,982.14 240.70,982.18 241.10,982.12 241.50,982.21 241.90,982.10 242.30,982.16 242.70,982.28 243.10,982.36 243.50,982.52 243.90,982.48 244.30,982.69 244.70,982.65 245.10,982.57 245.50,982.34 245.90,982.64 246.30,982.72 246.70,982.68 247.10,982.44 247.50,982.45 247.90,982.67 248.30,982.92 248.70,983.02 249.10,982.87 249.50,982.60 249.90,982.23 250.30,982.34 250.70,982.38 251.10,982.93 251.50,982.91 251.90,982.60 252.30,982.13 252.70,982.13 253.10,982.25 253.50,982.22 253.90,982.15 254.30,982.38 254.70,982.47 255.10,982.40 255.50,982.46 255.90,982.41 256.30,982.46 256.70,982.16 257.10,982.13 257.50,982.29 257.90,982.25 258.30,982.35 258.70,982.36 259.10,982.54 259.50,982.58 259.90,982.32 260.30,982.56 260.70,982.68 261.10,982.87 261.50,982.44 261.90,982.14 262.30,982.24 262.70,982.73 263.10,982.92 263.50,982.96 263.90,982.63 264.30,982.56 264.70,982.39 265.10,982.53 265.50,982.35 265.90,982.48 266.30,982.60 266.70,982.66 267.10,982.33 267.50,982.20 267.90,982.27 268.30,982.13 268.70,982.19 269.10,982.30 269.50,982.57 269.90,982.75 270.30,982.75 270.70,982.71 271.10,982.43 271.50,982.26 271.90,982.26 272.30,982.30 272.70,982.37 273.10,982.41 273.50,982.59 273.90,982.79 274.30,982.97 274.70,982.81 275.10,982.75 275.50,982.85 275.90,982.77 276.30,982.96 276.70,982.62 277.10,982.59 277.50,982.14 277.90,982.22 278.30,982.33 278.70,982.73 279.10,982.68 279.50,982.61 279.90,982.36 280.30,982.35 280.70,982.18 281.10,982.24 281.50,982.10 281.90,982.28 282.30,982.28 282.70,982.43 283.10,982.27 283.50,982.07 283.90,982.43 284.30,982.38 284.70,982.79 285.10,982.61 285.50,982.75 285.90,982.37 286.30,982.43 286.70,982.73 287.10,982.76 287.50,982.57 287.90,982.47 288.30,982.65 288.70,982.97 289.10,982.75 289.50,982.78 289.90,982.32 290.30,982.69 290.70,982.52 291.10,982.38 291.50,982.07 291.90,982.15 292.30,982.73 292.70,982.70 293.10,982.72 293.50,982.53 293.90,982.80 294.30,982.80 294.70,982.86 295.10,982.71 295.50,982.68 295.90,982.54 296.30,982.47 296.70,982.39 297.10,982.55 297.50,982.35 297.90,982.64 298.30,982.60 298.70,982.78 299.10,982.51 299.50,982.35 299.90,982.43 300.30,982.64 300.70,982.71 301.10,982.78 301.50,982.60 301.90,982.59 302.30,982.24 302.70,982.42 303.10,982.41 303.50,982.57 303.90,982.63 304.30,982.70 304.70,982.37 305.10,982.21 305.50,981.91 305.90,982.45 306.30,982.79 306.70,982.93 307.10,982.79 307.50,982.40 307.90,982.52 308.30,982.60 308.70,982.82 309.10,982.63 309.50,982.76 309.90,982.45 310.30,982.63 310.70,982.57 311.10,982.80 311.50,982.63 311.90,982.37 312.30,982.21 312.70,982.33 313.10,982.59 313.50,982.47 313.90,982.55 314.30,982.47 314.70,982.73 315.10,982.73 315.50,982.86 315.90,982.85 316.30,982.90 316.70,982.77 317.10,982.95 317.50,982.56 317.90,982.66 318.30,982.38 318.70,982.60 319.10,982.29 319.50,982.06 319.90,982.05 320.30,982.09 320.70,982.42 321.10,982.27 321.50,982.56 321.90,982.53 322.30,982.70 322.70,982.40 323.10,982.26 323.50,982.13 323.90,982.16 324.30,982.27 324.70,982.40 325.10,982.28 325.50,982.24 325.90,982.14 326.30,982.36 326.70,982.66 327.10,982.87 327.50,982.80 327.90,982.32 328.30,982.03 328.70,981.84 329.10,982.17 329.50,982.26 329.90,982.50 330.30,982.31 330.70,982.43 331.10,982.62 331.50,982.61 331.90,982.55 332.30,982.24 332.70,982.46 333.10,982.37 333.50,982.32 333.90,982.00 334.30,981.95 334.70,982.17 335.10,982.73 335.50,982.79 335.90,982.85 336.30,982.53 336.70,982.51 337.10,982.34 337.50,982.27 337.90,982.33 338.30,982.64 338.70,982.41 339.10,982.56 339.50,982.33 339.90,982.52 340.30,982.49 340.70,982.56 341.10,982.67 341.50,982.70 341.90,982.68 342.30,982.37 342.70,982.52 343.10,982.74 343.50,983.16 343.90,983.10 344.30,982.58 344.70,982.43 345.10,982.17 345.50,982.29 345.90,982.44 346.30,982.44 346.70,982.50 347.10,982.10 347.50,982.19 347.90,982.22 348.30,982.39 348.70,982.31 349.10,982.56 349.50,982.49 349.90,982.45 350.30,982.07 350.70,982.41 351.10,982.85 351.50,983.01 351.90,982.74 352.30,982.39 352.70,982.49 353.10,982.46 353.50,982.72 353.90,982.77 354.30,982.91 354.70,982.80 355.10,982.71 355.50,982.91 355.90,982.68 356.30,982.74 356.70,982.47 357.10,982.51 357.50,982.35 357.90,982.38 358.30,982.35 358.70,982.11 359.10,982.01 359.50,982.35 359.90,982.85 360.30,983.07 360.70,983.03 361.10,982.68 361.50,982.58 361.90,982.46 362.30,982.38 362.70,982.25 363.10,982.22 363.50,982.33 363.90,982.32 364.30,982.36 364.70,982.37 365.10,982.66 365.50,982.61 365.90,982.60 366.30,982.48 366.70,982.45 367.10,982.40 367.50,982.33 367.90,982.46 368.30,982.64 368.70,982.88 369.10,982.53 369.50,982.39 369.90,982.15 370.30,982.41 370.70,982.40 371.10,982.39 371.50,982.47 371.90,982.56 372.30,982.47 372.70,982.55 373.10,982.66 373.50,982.75 373.90,982.68 374.30,982.43 374.70,982.67 375.10,982.52 375.50,982.51 375.90,982.30 376.30,982.23 376.70,982.37 377.10,982.44 377.50,982.56 377.90,982.45 378.30,981.91 378.70,981.92 379.10,981.73 379.50,982.28 379.90,982.43 380.30,982.73 380.70,982.64 381.10,982.46 381.50,982.40 381.90,982.38 382.30,982.32 382.70,982.21 383.10,982.46 383.50,982.53 383.90,982.80 384.30,982.60 384.70,982.61 385.10,982.45 385.50,982.55 385.90,982.66 386.30,982.71 386.70,982.55 387.10,982.33 387.50,982.53 387.90,982.58 388.30,982.65 388.70,982.63 389.10,982.82 389.50,982.93 389.90,982.67 390.30,982.85 390.70,982.83 391.10,982.96 391.50,982.61 391.90,982.35 392.30,982.09 392.70,982.17 393.10,982.42 393.50,982.58 393.90,982.36 394.30,982.10 394.70,982.09 395.10,982.05 395.50,982.38 395.90,982.58 396.30,983.18 396.70,983.18 397.10,982.94 397.50,982.42 397.90,981.81 398.30,981.81 398.70,981.91 399.10,982.53 399.50,982.70 399.90,982.80 400.30,982.70 400.70,982.70 401.10,982.83 401.50,982.65 401.90,982.49 402.30,982.09 402.70,982.47 403.10,982.71 403.50,983.01 403.90,982.62 404.30,982.46 404.70,982.32 405.10,982.50 405.50,982.45 405.90,982.56 406.30,982.49 406.70,982.64 407.10,982.60 407.50,982.61 407.90,982.48 408.30,982.38 408.70,982.54 409.10,982.51 409.50,982.62 409.90,982.45 410.30,982.28 410.70,982.36 411.10,982.27 411.50,982.57 411.90,982.51 412.30,982.42 412.70,982.19 413.10,982.06 413.50,982.18 413.90,982.15 414.30,982.32 414.70,982.40 415.10,982.62 415.50,982.46 415.90,982.54 416.30,982.38 416.70,982.43 417.10,982.47 417.50,982.58 417.90,982.52 418.30,982.29 418.70,982.31 419.10,982.42 419.50,982.54 419.90,982.40 420.30,982.43 420.70,982.82 421.10,982.88 421.50,982.85 421.90,982.56 422.30,982.24 422.70,982.21 423.10,982.06 423.50,982.61 423.90,982.56 424.30,982.55 424.70,982.32 425.10,982.38 425.50,982.41 425.90,982.44 426.30,982.22 426.70,982.27 427.10,982.39 427.50,982.85 427.90,982.98 428.30,982.91 428.70,982.80 429.10,982.85 429.50,983.04 429.90,983.03 430.30,982.87 430.70,982.67 431.10,982.54 431.50,982.60 431.90,982.60 432.30,982.46 432.70,982.12 433.10,982.00 433.50,981.83 433.90,982.13 434.30,982.23 434.70,982.28 435.10,982.36 435.50,982.48 435.90,982.73 436.30,982.87 436.70,983.01 437.10,982.83 437.50,982.74 437.90,982.54 438.30,982.77 438.70,982.75 439.10,982.59 439.50,982.45 439.90,982.20 440.30,982.20 440.70,982.26 441.10,982.18 441.50,982.14 441.90,982.23 442.30,982.42 442.70,982.62 443.10,982.28 443.50,982.18 443.90,982.05 444.30,982.32 444.70,982.34 445.10,982.55 445.50,982.54 445.90,982.62 446.30,982.50 446.70,982.60 447.10,982.53 447.50,982.69 447.90,982.66 448.30,982.74 448.70,982.59 449.10,982.60 449.50,982.72 449.90,982.85 450.30,982.83 450.70,982.81 451.10,982.69 451.50,982.81 451.90,982.69 452.30,982.38 452.70,982.39 453.10,982.41 453.50,982.54 453.90,982.32 454.30,982.18 454.70,982.64 455.10,982.74 455.50,982.64 455.90,982.43 456.30,982.30 456.70,982.79 457.10,982.57 457.50,982.31 457.90,982.05 458.30,982.15 458.70,982.40 459.10,982.09 459.50,982.20 459.90,982.49 460.30,982.53 460.70,982.63 461.10,982.32 461.50,982.91 461.90,982.81 462.30,982.86 462.70,982.69 463.10,982.70 463.50,982.65 463.90,982.59 464.30,982.44 464.70,982.28 465.10,982.46 465.50,982.49 465.90,982.65 466.30,982.41 466.70,982.24 467.10,982.14 467.50,982.02 467.90,982.17 468.30,982.37 468.70,982.59 469.10,982.60 469.50,982.66 469.90,982.59 470.30,982.50 470.70,982.46 471.10,982.25 471.50,982.55 471.90,982.58 472.30,982.71 472.70,982.38 473.10,982.33 473.50,982.22 473.90,982.51 474.30,982.47 474.70,982.47 475.10,982.50 475.50,982.62 475.90,982.65 476.30,982.68 476.70,982.54 477.10,982.58 477.50,982.43 477.90,982.37 478.30,982.35 478.70,982.31 479.10,982.63 479.50,982.90 479.90,982.89 480.30,982.90 480.70,982.68 481.10,982.77 481.50,982.67 481.90,982.72 482.30,983.00 482.70,982.91 483.10,982.70 483.50,982.55 483.90,982.46 484.30,982.58 484.70,981.98 485.10,982.18 485.50,982.34 485.90,982.87 486.30,982.86 486.70,982.99 487.10,982.87 487.50,982.86 487.90,982.52 488.30,982.48 488.70,982.49 489.10,982.65 489.50,982.52 489.90,982.42 490.30,982.34 490.70,982.41 491.10,982.42 491.50,982.39 491.90,982.28 492.30,982.07 492.70,982.37 493.10,982.38 493.50,982.57 493.90,982.40 494.30,982.71 494.70,982.50 495.10,982.37 495.50,982.30 495.90,982.59 496.30,982.54 496.70,982.36 497.10,982.39 497.50,982.63 497.90,982.85 498.30,982.62 498.70,982.52 499.10,982.49 499.50,982.69 499.90,982.46 500.30,982.46 500.70,982.32 501.10,982.34 501.50,982.35 501.90,982.38 502.30,982.48 502.70,982.50 503.10,982.30 503.50,982.35 503.90,982.35 504.30,982.59 504.70,982.75 505.10,982.52 505.50,982.27 505.90,982.15 506.30,982.39 506.70,982.89 507.10,982.95 507.50,982.76 507.90,982.58 508.30,982.37 508.70,982.29 509.10,982.54 509.50,982.70 509.90,983.01 510.30,982.72 510.70,982.93 511.10,982.87 511.50,982.96 511.90,982.57 512.30,982.33 512.70,982.36 513.10,982.71 513.50,982.98 513.90,982.81 514.30,982.63 514.70,982.46 515.10,982.64 515.50,982.71 515.90,982.88 516.30,982.72 516.70,982.77 517.10,982.77 517.50,982.82 517.90,982.51 518.30,982.51 518.70,982.71 519.10,982.81 519.50,982.72 519.90,982.53 520.30,982.74 520.70,982.85 521.10,982.49 521.50,982.43 521.90,982.18 522.30,982.29 522.70,982.30 523.10,982.42 523.50,982.65 523.90,983.01 524.30,983.16 524.70,983.15 525.10,982.58 525.50,982.39 525.90,982.14 526.30,982.19 526.70,982.12 527.10,982.18 527.50,982.23 527.90,982.24 528.30,982.13 528.70,981.97 529.10,982.17 529.50,982.38 529.90,982.72 530.30,982.80 530.70,982.74 531.10,982.69 531.50,982.34 531.90,982.71 532.30,982.79 532.70,982.96 533.10,982.47 533.50,982.36 533.90,982.13 534.30,982.18 534.70,982.23 535.10,982.51 535.50,982.55 535.90,982.57 536.30,982.42 536.70,982.53 537.10,982.32 537.50,982.35 537.90,982.38 538.30,982.31 538.70,982.69 539.10,982.55 539.50,982.96 539.90,982.54 540.30,982.71 540.70,982.26 541.10,982.23 541.50,982.17 541.90,982.43 542.30,982.44 542.70,982.58 543.10,982.38 543.50,982.57 543.90,982.46 544.30,982.65 544.70,982.38 545.10,982.56 545.50,982.55 545.90,982.75 546.30,982.38 546.70,982.06 547.10,981.93 547.50,982.15 547.90,982.34 548.30,982.37 548.70,982.22 549.10,982.49 549.50,982.60 549.90,982.59 550.30,982.56 550.70,982.67 551.10,982.76 551.50,982.49 551.90,982.20 552.30,982.03 552.70,982.05 553.10,982.24 553.50,982.45 553.90,982.60 554.30,982.66 554.70,982.64 555.10,982.42 555.50,982.09 555.90,981.98 556.30,981.99 556.70,982.20 557.10,982.24 557.50,982.20 557.90,982.13 558.30,982.16 558.70,982.35 559.10,982.41 559.50,982.49 559.90,982.45 560.30,982.40 560.70,982.33 561.10,982.63 561.50,982.67 561.90,982.83 562.30,982.76 562.70,983.07 563.10,982.79 563.50,982.88 563.90,982.68 564.30,982.76 564.70,982.45 565.10,982.52 565.50,982.56 565.90,982.57 566.30,982.66 566.70,982.55 567.10,982.43 567.50,982.36 567.90,982.56 568.30,982.86 568.70,982.60 569.10,982.65 569.50,982.57 569.90,982.97 570.30,982.64 570.70,982.60 571.10,982.32 571.50,982.27 571.90,982.14 572.30,982.34 572.70,982.49 573.10,982.49 573.50,982.45 573.90,982.66 574.30,982.90 574.70,982.67 575.10,982.52 575.50,982.53 575.90,982.54 576.30,982.45 576.70,982.42 577.10,982.73 577.50,982.67 577.90,982.19 578.30,981.77 578.70,981.79 579.10,982.14 579.50,982.43 579.90,982.55 580.30,982.47 580.70,982.40 581.10,982.29 581.50,982.38 581.90,982.27 582.30,982.78 582.70,982.90 583.10,982.87 583.50,982.36 583.90,982.18 584.30,982.07 584.70,982.11 585.10,982.06 585.50,982.42 585.90,982.46 586.30,982.45 586.70,982.14 587.10,982.04 587.50,982.14 587.90,982.30 588.30,982.62 588.70,982.54 589.10,982.72 589.50,982.60 589.90,982.68 590.30,982.25 590.70,982.04 591.10,982.14 591.50,982.62 591.90,982.83 592.30,982.83 592.70,982.58 593.10,982.50 593.50,982.30 593.90,982.49 594.30,982.59 594.70,982.65 595.10,982.47 595.50,982.50 595.90,982.58 596.30,982.51 596.70,982.67 597.10,982.66 597.50,982.78 597.90,982.74 598.30,982.85 598.70,982.84 599.10,982.71 599.50,982.41 599.90,982.34 600.30,981.94 600.70,982.26 601.10,982.09 601.50,982.50 601.90,982.21 602.30,982.34 602.70,982.22 603.10,982.37 603.50,982.60 603.90,982.87 604.30,982.88 604.70,982.92 605.10,982.59 605.50,982.64 605.90,982.54 606.30,982.56 606.70,982.44 607.10,982.41 607.50,982.50 607.90,982.57 608.30,982.51 608.70,982.38 609.10,982.43 609.50,982.26 609.90,982.28 610.30,982.39 610.70,982.25 611.10,982.24 611.50,982.12 611.90,982.27 612.30,982.73 612.70,982.27 613.10,982.70 613.50,982.56 613.90,983.05 614.30,982.82 614.70,982.65 615.10,982.39 615.50,982.54 615.90,982.33 616.30,982.42 616.70,982.44 617.10,982.45 617.50,982.43 617.90,982.32 618.30,982.28 618.70,982.50 619.10,982.52 619.50,982.50 619.90,982.33 620.30,982.17 620.70,982.29 621.10,982.31 621.50,982.32 621.90,982.55 622.30,982.44 622.70,982.67 623.10,982.53 623.50,982.75 623.90,982.54 624.30,982.47 624.70,982.19 625.10,982.35 625.50,982.55 625.90,983.01 626.30,983.11 626.70,983.01 627.10,982.69 627.50,982.56 627.90,982.52 628.30,982.76 628.70,982.83 629.10,982.72 629.50,982.42 629.90,982.48 630.30,982.64 630.70,982.70 631.10,982.68 631.50,982.58 631.90,982.57 632.30,982.34 632.70,982.12 633.10,982.28 633.50,982.18 633.90,982.37 634.30,982.15 634.70,982.42 635.10,982.49 635.50,982.59 635.90,982.26 636.30,982.25 636.70,982.05 637.10,982.32 637.50,982.39 637.90,982.59 638.30,982.83 638.70,982.86 639.10,982.94 639.50,982.68 639.90,982.58 640.30,982.63 640.70,982.76 641.10,982.61 641.50,982.62 641.90,982.54 642.30,982.85 642.70,982.77 643.10,982.53 643.50,982.23 643.90,982.42 644.30,982.63 644.70,982.59 645.10,982.39 645.50,982.30 645.90,982.24 646.30,981.87 646.70,981.70 647.10,981.99 647.50,982.31 647.90,982.50 648.30,982.50 648.70,982.59 649.10,982.33 649.50,982.25 649.90,982.05 650.30,982.17 650.70,982.13 651.10,982.23 651.50,982.37 651.90,982.24 652.30,982.19 652.70,982.51 653.10,982.57 653.50,982.40 653.90,982.15 654.30,982.39 654.70,982.69 655.10,982.49 655.50,982.55 655.90,982.37 656.30,982.37 656.70,982.15 657.10,982.24 657.50,982.50 657.90,982.67 658.30,982.68 658.70,982.71 659.10,982.64 659.50,982.77 659.90,982.44 660.30,982.21 660.70,982.19 661.10,982.19 661.50,982.37 661.90,982.25 662.30,982.38 662.70,982.35 663.10,982.56 663.50,982.28 663.90,982.46 664.30,982.59 664.70,982.95 665.10,982.82 665.50,982.60 665.90,982.86 666.30,982.69 666.70,982.60 667.10,982.32 667.50,982.56 667.90,982.57 668.30,982.69 668.70,982.56 669.10,982.54 669.50,982.35 669.90,982.32 670.30,982.29 670.70,982.37 671.10,982.30 671.50,982.54 671.90,982.54 672.30,982.51 672.70,982.44 673.10,982.36 673.50,982.62 673.90,982.46 674.30,982.60 674.70,982.56 675.10,982.48 675.50,982.45 675.90,982.71 676.30,982.48 676.70,982.48 677.10,982.26 677.50,982.42 677.90,982.22 678.30,982.46 678.70,982.56 679.10,983.04 679.50,982.81 679.90,982.88 680.30,982.65 680.70,982.67 681.10,982.82 681.50,982.82 681.90,982.75 682.30,982.61 682.70,982.73 683.10,982.83 683.50,982.66 683.90,982.39 684.30,982.32 684.70,982.37 685.10,982.41 685.50,982.23 685.90,982.28 686.30,982.39 686.70,982.66 687.10,982.70 687.50,982.93 687.90,982.78 688.30,983.23 688.70,983.08 689.10,983.16 689.50,982.64 689.90,982.10 690.30,982.01 690.70,982.11 691.10,982.77 691.50,982.60 691.90,982.84 692.30,982.54 692.70,982.83 693.10,982.21 693.50,982.27 693.90,982.12 694.30,982.57 694.70,982.56 695.10,982.45 695.50,982.49 695.90,982.57 696.30,982.81 696.70,982.82 697.10,982.88 697.50,982.79 697.90,982.46 698.30,982.11 698.70,982.30 699.10,982.59 699.50,982.80 699.90,982.55 700.00,982.45"/><polyline fill="none" stroke="#000" stroke-width="1" stroke-linejoin="round" points="95.50,982.51 95.90,982.46 96.30,982.36 96.70,982.66 97.10,982.74 97.50,982.75 97.90,982.26 98.30,982.13 98.70,982.32 99.10,982.61 99.50,982.68 99.90,982.58 100.30,982.43 100.70,982.31 101.10,982.48 101.50,982.58 101.90,983.08 102.30,982.79 102.70,982.72 103.10,982.50 103.50,982.57 103.90,982.40 104.30,982.14 104.70,982.19 105.10,982.43 105.50,982.55 105.90,982.68 106.30,982.77 106.70,982.82 107.10,982.69 107.50,982.51 107.90,982.55 108.30,982.67 108.70,982.71 109.10,982.70 109.50,982.53 109.90,982.32 110.30,982.12 110.70,982.27 111.10,982.53 111.50,982.89 111.90,982.79 112.30,982.85 112.70,982.81 113.10,982.95 113.50,982.74 113.90,982.53 114.30,982.41 114.70,982.35 115.10,982.45 115.50,982.57 115.90,982.64 116.30,982.85 116.70,982.67 117.10,982.71 117.50,982.40 117.90,982.34 118.30,982.43 118.70,982.46 119.10,982.79 119.50,982.82 119.90,982.89 120.30,982.63 120.70,982.35 121.10,982.26 121.50,982.17 121.90,982.50 122.30,982.51 122.70,982.86 123.10,982.83 123.50,982.95 123.90,982.75 124.30,982.68 124.70,982.65 125.10,982.75 125.50,982.62 125.90,982.60 126.30,982.84 126.70,982.92 127.10,982.82 127.50,982.35 127.90,982.16 128.30,982.37 128.70,982.47 129.10,982.72 129.50,982.81 129.90,983.15 130.30,982.99 130.70,982.87 131.10,982.61 131.50,982.79 131.90,982.71 132.30,982.62 132.70,982.79 133.10,982.81 133.50,982.86 133.90,982.81 134.30,982.85 134.70,982.87 135.10,982.74 135.50,982.86 135.90,982.86 136.30,982.81 136.70,982.44 137.10,982.32 137.50,982.19 137.90,982.32 138.30,982.41 138.70,982.27 139.10,982.25 139.50,982.31 139.90,982.62 140.30,982.48 140.70,982.57 141.10,982.45 141.50,982.41 141.90,982.08 142.30,982.18 142.70,982.49 143.10,982.80 143.50,982.83 143.90,982.53 144.30,982.27 144.70,982.12 145.10,982.26 145.50,982.10 145.90,982.24 146.30,982.36 146.70,982.59 147.10,982.63 147.50,982.41 147.90,982.23 148.30,982.08 148.70,982.37 149.10,982.72 149.50,982.74 149.90,982.75 150.30,982.56 150.70,982.84 151.10,982.73 151.50,982.72 151.90,982.62 152.30,982.44 152.70,982.37 153.10,982.06 153.50,982.20 153.90,982.33 154.30,982.52 154.70,982.42 155.10,982.63 155.50,982.58 155.90,982.54 156.30,982.51 156.70,982.77 157.10,982.92 157.50,982.50 157.90,982.22 158.30,982.26 158.70,982.50 159.10,982.81 159.50,982.53 159.90,982.62 160.30,982.32 160.70,982.69 161.10,982.59 161.50,982.82 161.90,982.54 162.30,982.36 162.70,982.06 163.10,982.06 163.50,982.12 163.90,982.44 164.30,982.71 164.70,982.89 165.10,982.58 165.50,982.38 165.90,982.24 166.30,982.59 166.70,982.65 167.10,982.82 167.50,982.56 167.90,982.23 168.30,982.05 168.70,981.95 169.10,982.29 169.50,982.41 169.90,982.45 170.30,982.35 170.70,982.55 171.10,982.53 171.50,982.46 171.90,982.21 172.30,982.24 172.70,982.31 173.10,982.42 173.50,982.76 173.90,982.57 174.30,982.49 174.70,982.25 175.10,982.49 175.50,982.47 175.90,982.41 176.30,982.57 176.70,982.53 177.10,982.56 177.50,982.42 177.90,982.50 178.30,982.49 178.70,982.63 179.10,982.61 179.50,982.66 179.90,982.52 180.30,982.38 180.70,982.24 181.10,982.10 181.50,982.26 181.90,982.28 182.30,982.28 182.70,982.28 183.10,982.46 183.50,982.36 183.90,982.56 184.30,982.49 184.70,982.73 185.10,982.64 185.50,982.64 185.90,982.57 186.30,982.73 186.70,982.57 187.10,982.64 187.50,982.45 187.90,982.46 188.30,982.45 188.70,982.39 189.10,982.88 189.50,982.77 189.90,982.70 190.30,982.46 190.70,982.60 191.10,982.44 191.50,982.40 191.90,982.40 192.30,982.63 192.70,982.74 193.10,982.86 193.50,982.86 193.90,982.74 194.30,982.45 194.70,982.37 195.10,982.36 195.50,982.46 195.90,982.49 196.30,982.34 196.70,982.61 197.10,982.90 197.50,982.96 197.90,982.80 198.30,982.47 198.70,982.70 199.10,982.70 199.50,982.75 199.90,982.54 200.00,982.50 200.30,982.33 200.70,982.37 201.10,982.11 201.50,982.11 201.90,981.75 202.20,981.75 202.30,981.54 202.70,980.34 203.10,977.57 203.40,975.10 203.50,973.59 203.90,962.04 204.30,944.13 204.60,930.17 204.70,924.95 205.10,901.04 205.50,879.55 205.90,864.15 206.30,853.61 206.40,853.15 206.70,854.15 207.00,857.85 207.10,859.91 207.50,870.86 207.90,862.63 208.00,859.69 208.30,848.96 208.70,830.58 209.10,813.41 209.20,810.20 209.50,800.15 209.90,787.71 210.30,780.45 210.40,780.20 210.70,784.86 211.10,799.18 211.40,810.34 211.50,813.28 211.90,827.15 212.30,841.90 212.60,852.44 212.70,855.88 213.10,869.80 213.50,883.95 213.90,897.52 214.30,908.68 214.70,918.99 215.10,928.35 215.50,936.90 215.90,943.49 216.00,944.81 216.30,948.92 216.70,953.34 217.10,956.96 217.50,960.21 217.90,963.36 218.20,965.30 218.30,965.39 218.70,967.41 219.10,969.27 219.50,971.40 219.90,972.65 220.30,973.89 220.70,974.72 221.00,975.59 221.10,976.04 221.50,976.54 221.90,976.87 222.30,977.51 222.70,978.29 223.10,978.69 223.50,978.84 223.90,979.22 224.00,979.47 224.30,979.62 224.70,979.87 225.10,980.08 225.50,980.43 225.90,980.58 226.30,980.80 226.70,980.91 227.10,981.36 227.50,981.59 227.90,981.70 228.00,981.61 228.30,981.68 228.70,981.93 229.10,982.01 229.50,982.28 229.90,982.39 230.30,982.38 230.70,982.14 231.10,982.14 231.50,982.28 231.90,982.38 232.30,982.11 232.70,981.82 233.10,981.93 233.50,982.28 233.90,982.69 234.30,982.48 234.70,982.54 235.10,982.37 235.50,982.62 235.90,982.54 236.00,982.50 236.30,982.36 236.70,982.01 237.10,982.00 237.50,981.83 237.90,982.18 238.30,982.32 238.70,982.70 239.10,982.69 239.50,982.59 239.90,982.51 240.30,982.40 240.70,982.58 241.10,982.57 241.50,982.49 241.90,982.41 242.30,982.37 242.70,982.46 243.10,982.59 243.50,982.82 243.90,982.81 244.30,982.64 244.70,982.08 245.10,982.12 245.50,982.11 245.90,982.12 246.30,982.18 246.70,982.32 247.10,982.52 247.50,982.43 247.90,982.21 248.30,982.42 248.70,982.26 249.10,982.35 249.50,982.52 249.90,982.74 250.30,982.85 250.70,982.55 251.10,982.38 251.50,982.31 251.90,982.39 252.30,982.41 252.70,982.46 253.10,982.58 253.50,982.87 253.90,982.60 254.30,982.29 254.70,981.92 255.10,982.29 255.50,982.51 255.90,982.83 256.30,982.56 256.70,982.31 257.10,982.22 257.50,982.36 257.90,982.41 258.30,982.41 258.70,982.49 259.10,982.64 259.50,982.48 259.90,982.09 260.30,982.02 260.70,982.19 261.10,982.45 261.50,982.43 261.90,982.31 262.30,982.44 262.70,982.50 263.10,982.61 263.50,982.37 263.90,982.29 264.30,982.30 264.70,982.30 265.10,982.21 265.50,982.14 265.90,982.45 266.30,982.65 266.70,982.90 267.10,982.71 267.50,982.64 267.90,982.24 268.30,982.18 268.70,982.43 269.10,982.67 269.50,982.85 269.90,982.75 270.30,982.70 270.70,982.57 271.10,982.49 271.50,982.58 271.90,982.67 272.30,982.73 272.70,982.65 273.10,982.48 273.50,982.38 273.90,982.22 274.30,982.47 274.70,982.21 275.10,982.32 275.50,982.51 275.90,982.76 276.30,982.63 276.70,982.29 277.10,982.52 277.50,982.66 277.90,982.74 278.30,982.58 278.70,982.55 279.10,982.90 279.50,982.90 279.90,982.88 280.30,982.37 280.70,982.41 281.10,982.54 281.50,982.72 281.90,982.69 282.30,982.43 282.70,982.39 283.10,982.33 283.50,982.49 283.90,982.21 284.30,982.17 284.70,982.11 285.10,982.31 285.50,982.19 285.90,982.30 286.30,982.32 286.70,982.37 287.10,982.27 287.50,982.14 287.90,982.42 288.30,982.15 288.70,982.23 289.10,981.87 289.50,982.16 289.90,982.33 290.30,982.47 290.70,982.55 291.10,982.31 291.50,982.67 291.90,982.78 292.30,983.06 292.70,982.60 293.10,982.32 293.50,982.31 293.90,982.47 294.30,982.59 294.70,982.48 295.10,982.33 295.50,982.48 295.90,982.44 296.30,982.68 296.70,982.48 297.10,982.55 297.50,982.38 297.90,982.61 298.30,982.69 298.70,982.92 299.10,982.86 299.50,982.79 299.90,982.28 300.30,982.33 300.70,982.20 301.10,982.59 301.50,982.44 301.90,982.28 302.30,982.19 302.70,982.32 303.10,982.72 303.50,982.70 303.90,982.48 304.30,982.49 304.70,982.45 305.10,982.87 305.50,982.67 305.90,982.67 306.30,982.52 306.70,982.75 307.10,982.67 307.50,982.75 307.90,982.48 308.30,982.89 308.70,982.62 309.10,982.43 309.50,982.30 309.90,982.48 310.30,982.99 310.70,983.16 311.10,983.13 311.50,982.81 311.90,982.49 312.30,982.35 312.70,982.27 313.10,982.30 313.50,981.99 313.90,982.13 314.30,982.16 314.70,982.88 315.10,982.96 315.50,982.90 315.90,982.62 316.30,982.34 316.70,982.32 317.10,981.98 317.50,982.36 317.90,982.52 318.30,982.62 318.70,982.41 319.10,982.46 319.50,982.69 319.90,982.76 320.30,982.50 320.70,982.34 321.10,982.30 321.50,982.55 321.90,982.53 322.30,982.36 322.70,982.39 323.10,982.37 323.50,982.68 323.90,982.55 324.30,982.81 324.70,982.90 325.10,982.96 325.50,982.95 325.90,982.58 326.30,982.38 326.70,982.36 327.10,982.71 327.50,983.00 327.90,983.23 328.30,983.06 328.70,982.90 329.10,982.71 329.50,982.67 329.90,982.63 330.30,982.35 330.70,982.48 331.10,982.34 331.50,982.56 331.90,982.22 332.30,982.53 332.70,982.31 333.10,982.63 333.50,982.25 333.90,982.33 334.30,982.38 334.70,982.49 335.10,982.56 335.50,982.33 335.90,982.12 336.30,982.15 336.70,982.28 337.10,982.45 337.50,982.49 337.90,982.31 338.30,982.33 338.70,982.25 339.10,982.27 339.50,982.73 339.90,982.51 340.30,982.71 340.70,982.52 341.10,982.46 341.50,982.12 341.90,982.06 342.30,982.27 342.70,982.57 343.10,982.65 343.50,982.66 343.90,982.46 344.30,981.92 344.70,982.00 345.10,982.02 345.50,982.44 345.90,982.45 346.30,982.38 346.70,982.58 347.10,982.70 347.50,983.01 347.90,982.60 348.30,982.40 348.70,982.20 349.10,982.31 349.50,982.21 349.90,982.35 350.30,982.44 350.70,982.64 351.10,982.51 351.50,982.66 351.90,982.64 352.30,982.32 352.70,982.05 353.10,982.02 353.50,982.54 353.90,982.59 354.30,982.56 354.70,982.33 355.10,982.47 355.50,982.44 355.90,982.45 356.30,982.25 356.70,982.39 357.10,982.40 357.50,982.27 357.90,982.28 358.30,982.25 358.70,982.54 359.10,982.50 359.50,982.77 359.90,982.87 360.30,982.73 360.70,982.54 361.10,982.22 361.50,982.53 361.90,982.62 362.30,982.99 362.70,982.71 363.10,982.36 363.50,982.38 363.90,982.44 364.30,982.75 364.70,982.54 365.10,982.62 365.50,982.67 365.90,982.44 366.30,982.50 366.70,982.36 367.10,982.51 367.50,982.60 367.90,982.81 368.30,982.82 368.70,982.32 369.10,982.22 369.50,982.34 369.90,982.59 370.30,982.39 370.70,982.20 371.10,982.04 371.50,982.24 371.90,982.47 372.30,982.79 372.70,982.66 373.10,982.57 373.50,982.51 373.90,982.54 374.30,982.49 374.70,982.70 375.10,982.81 375.50,982.95 375.90,982.59 376.30,982.57 376.70,982.20 377.10,982.26 377.50,982.42 377.90,982.96 378.30,983.13 378.70,983.06 379.10,982.77 379.50,982.52 379.90,982.40 380.30,982.48 380.70,982.45 381.10,982.61 381.50,982.38 381.90,982.24 382.30,981.97 382.70,981.88 383.10,981.93 383.50,982.23 383.90,982.44 384.30,982.66 384.70,982.66 385.10,982.87 385.50,982.77 385.90,982.79 386.30,982.67 386.70,982.74 387.10,982.62 387.50,982.36 387.90,982.25 388.30,982.18 388.70,982.46 389.10,982.52 389.50,982.52 389.90,982.57 390.30,982.82 390.70,982.94 391.10,982.98 391.50,982.73 391.90,982.58 392.30,982.45 392.70,982.46 393.10,982.43 393.50,982.62 393.90,982.63 394.30,982.57 394.70,982.40 395.10,982.69 395.50,982.84 395.90,982.94 396.30,982.62 396.70,982.54 397.10,982.27 397.50,982.31 397.90,982.64 398.30,982.58 398.70,982.82 399.10,982.43 399.50,982.56 399.90,982.44 400.30,982.67 400.70,982.74 401.10,982.40 401.50,982.36 401.90,982.18 402.30,982.77 402.70,982.69 403.10,982.86 403.50,982.34 403.90,982.30 404.30,982.09 404.70,982.39 405.10,982.42 405.50,982.68 405.90,982.45 406.30,982.41 406.70,982.51 407.10,982.47 407.50,982.29 407.90,982.17 408.30,982.14 408.70,982.34 409.10,982.41 409.50,982.45 409.90,982.64 410.30,982.41 410.70,982.74 411.10,982.80 411.50,982.83 411.90,982.59 412.30,982.29 412.70,982.38 413.10,982.57 413.50,982.49 413.90,982.59 414.30,982.24 414.70,982.32 415.10,981.94 415.50,982.42 415.90,982.55 416.30,982.84 416.70,982.45 417.10,982.59 417.50,982.26 417.90,982.36 418.30,982.52 418.70,982.76 419.10,982.76 419.50,982.54 419.90,982.48 420.30,982.48 420.70,982.52 421.10,982.66 421.50,982.71 421.90,982.53 422.30,982.55 422.70,982.50 423.10,982.76 423.50,982.81 423.90,982.77 424.30,982.22 424.70,982.22 425.10,982.36 425.50,982.58 425.90,982.20 426.30,981.93 426.70,982.19 427.10,982.32 427.50,982.42 427.90,982.32 428.30,982.64 428.70,982.70 429.10,982.65 429.50,982.41 429.90,982.64 430.30,982.80 430.70,982.86 431.10,982.44 431.50,982.18 431.90,982.27 432.30,982.37 432.70,982.61 433.10,982.57 433.50,982.72 433.90,982.68 434.30,982.70 434.70,982.54 435.10,982.40 435.50,982.66 435.90,982.61 436.30,982.59 436.70,982.41 437.10,982.56 437.50,982.51 437.90,982.18 438.30,982.28 438.70,982.53 439.10,982.91 439.50,982.85 439.90,982.85 440.30,982.51 440.70,982.53 441.10,982.28 441.50,982.45 441.90,982.53 442.30,982.78 442.70,982.62 443.10,982.69 443.50,982.47 443.90,982.47 444.30,982.27 444.70,982.13 445.10,982.27 445.50,982.34 445.90,982.51 446.30,982.59 446.70,982.50 447.10,982.53 447.50,982.25 447.90,982.30 448.30,982.19 448.70,982.32 449.10,982.30 449.50,982.45 449.90,982.28 450.30,982.08 450.70,982.01 451.10,982.31 451.50,982.57 451.90,982.74 452.30,982.86 452.70,982.88 453.10,982.75 453.50,982.42 453.90,982.22 454.30,982.16 454.70,982.34 455.10,982.50 455.50,982.57 455.90,982.51 456.30,982.57 456.70,982.60 457.10,982.66 457.50,982.61 457.90,982.51 458.30,982.32 458.70,982.35 459.10,982.48 459.50,982.60 459.90,982.47 460.30,982.73 460.70,982.65 461.10,982.68 461.50,982.40 461.90,982.35 462.30,982.39 462.70,982.61 463.10,982.90 463.50,982.97 463.90,982.80 464.30,982.69 464.70,982.73 465.10,982.63 465.50,982.55 465.90,982.43 466.30,982.58 466.70,982.69 467.10,982.77 467.50,982.36 467.90,982.48 468.30,982.71 468.70,983.18 469.10,982.97 469.50,982.52 469.90,982.38 470.30,982.28 470.70,982.50 471.10,982.39 471.50,982.66 471.90,982.75 472.30,982.54 472.70,982.45 473.10,982.16 473.50,982.25 473.90,982.12 474.30,982.19 474.70,982.53 475.10,982.40 475.50,982.58 475.90,982.72 476.30,983.01 476.70,982.94 477.10,982.66 477.50,982.41 477.90,982.41 478.30,982.46 478.70,982.73 479.10,983.02 479.50,983.06 479.90,983.02 480.30,982.88 480.70,982.59 481.10,982.37 481.50,982.10 481.90,982.20 482.30,982.45 482.70,982.46 483.10,982.80 483.50,982.91 483.90,983.06 484.30,982.77 484.70,982.64 485.10,982.65 485.50,982.55 485.90,982.51 486.30,982.50 486.70,982.68 487.10,982.85 487.50,982.92 487.90,982.77 488.30,982.57 488.70,982.28 489.10,982.48 489.50,982.34 489.90,982.59 490.30,982.56 490.70,982.82 491.10,982.67 491.50,982.41 491.90,982.52 492.30,982.52 492.70,982.92 493.10,982.73 493.50,982.85 493.90,982.91 494.30,982.90 494.70,983.00 495.10,982.54 495.50,982.61 495.90,982.38 496.30,982.57 496.70,982.45 497.10,982.53 497.50,982.78 497.90,982.52 498.30,982.48 498.70,982.15 499.10,982.57 499.50,982.50 499.90,982.67 500.30,982.45 500.70,982.60 501.10,982.68 501.50,982.68 501.90,982.59 502.30,982.25 502.70,982.35 503.10,982.46 503.50,982.58 503.90,982.70 504.30,982.29 504.70,982.11 505.10,981.76 505.50,981.98 505.90,982.24 506.30,982.42 506.70,982.48 507.10,982.58 507.50,982.53 507.90,982.36 508.30,982.08 508.70,982.44 509.10,982.29 509.50,982.44 509.90,982.35 510.30,982.75 510.70,982.66 511.10,982.45 511.50,982.51 511.90,982.79 512.30,982.66 512.70,982.65 513.10,982.52 513.50,982.80 513.90,982.88 514.30,982.80 514.70,982.44 515.10,982.30 515.50,982.60 515.90,982.90 516.30,982.88 516.70,982.96 517.10,982.72 517.50,982.82 517.90,982.40 518.30,982.55 518.70,982.44 519.10,982.73 519.50,982.59 519.90,982.51 520.30,982.07 520.70,982.27 521.10,982.28 521.50,982.56 521.90,982.34 522.30,982.36 522.70,982.44 523.10,982.57 523.50,982.71 523.90,982.64 524.30,982.61 524.70,982.31 525.10,982.37 525.50,982.44 525.90,982.80 526.30,982.38 526.70,982.12 527.10,981.69 527.50,981.85 527.90,982.22 528.30,982.60 528.70,982.72 529.10,982.59 529.50,982.62 529.90,982.58 530.30,982.62 530.70,982.53 531.10,982.27 531.50,982.16 531.90,982.33 532.30,982.58 532.70,982.61 533.10,982.34 533.50,982.33 533.90,982.50 534.30,982.55 534.70,982.48 535.10,981.88 535.50,981.84 535.90,981.71 536.30,981.89 536.70,982.08 537.10,982.46 537.50,982.44 537.90,982.45 538.30,982.42 538.70,982.57 539.10,982.56 539.50,982.27 539.90,982.21 540.30,981.90 540.70,981.97 541.10,982.27 541.50,982.28 541.90,982.28 542.30,982.02 542.70,982.23 543.10,982.35 543.50,982.60 543.90,982.47 544.30,982.34 544.70,982.15 545.10,982.25 545.50,982.30 545.90,982.41 546.30,982.66 546.70,982.71 547.10,982.68 547.50,982.61 547.90,982.60 548.30,982.48 548.70,982.13 549.10,982.28 549.50,982.47 549.90,982.60 550.30,982.55 550.70,982.66 551.10,982.80 551.50,982.60 551.90,982.42 552.30,982.31 552.70,982.61 553.10,982.57 553.50,982.47 553.90,982.30 554.30,982.09 554.70,982.17 555.10,982.15 555.50,982.47 555.90,982.33 556.30,982.35 556.70,982.15 557.10,982.14 557.50,982.30 557.90,982.37 558.30,982.58 558.70,982.33 559.10,982.40 559.50,982.11 559.90,982.19 560.30,982.11 560.70,982.43 561.10,982.52 561.50,982.57 561.90,982.60 562.30,982.60 562.70,982.70 563.10,982.69 563.50,982.66 563.90,982.54 564.30,982.48 564.70,982.43 565.10,982.52 565.50,982.63 565.90,982.81 566.30,982.70 566.70,982.37 567.10,982.24 567.50,982.28 567.90,982.61 568.30,982.56 568.70,982.55 569.10,982.50 569.50,982.49 569.90,982.49 570.30,982.63 570.70,982.91 571.10,983.02 571.50,982.81 571.90,982.47 572.30,982.46 572.70,982.43 573.10,982.60 573.50,982.45 573.90,982.44 574.30,982.38 574.70,982.50 575.10,982.70 575.50,982.77 575.90,982.50 576.30,982.16 576.70,981.89 577.10,982.01 577.50,982.23 577.90,982.50 578.30,982.53 578.70,982.49 579.10,982.33 579.50,982.21 579.90,981.98 580.30,981.96 580.70,982.36 581.10,982.37 581.50,982.66 581.90,982.65 582.30,982.81 582.70,982.63 583.10,982.36 583.50,982.38 583.90,982.48 584.30,982.57 584.70,982.71 585.10,982.79 585.50,982.83 585.90,982.74 586.30,982.56 586.70,982.56 587.10,982.36 587.50,982.43 587.90,982.41 588.30,982.44 588.70,982.69 589.10,982.52 589.50,982.52 589.90,982.26 590.30,982.12 590.70,982.14 591.10,981.88 591.50,982.02 591.90,982.11 592.30,982.37 592.70,982.66 593.10,982.79 593.50,982.91 593.90,982.84 594.30,982.66 594.70,982.65 595.10,982.50 595.50,982.48 595.90,982.54 596.30,982.72 596.70,982.83 597.10,982.72 597.50,982.74 597.90,982.51 598.30,982.40 598.70,982.11 599.10,982.32 599.50,982.24 599.90,982.59 600.30,982.65 600.70,982.63 601.10,982.43 601.50,982.19 601.90,982.31 602.30,982.39 602.70,982.60 603.10,982.32 603.50,982.20 603.90,982.23 604.30,982.54 604.70,982.75 605.10,982.50 605.50,982.53 605.90,982.28 606.30,982.49 606.70,982.47 607.10,982.66 607.50,982.55 607.90,982.52 608.30,982.26 608.70,982.14 609.10,982.19 609.50,982.35 609.90,982.32 610.30,982.12 610.70,982.13 611.10,982.58 611.50,982.84 611.90,982.95 612.30,982.48 612.70,982.32 613.10,982.28 613.50,982.58 613.90,982.66 614.30,982.56 614.70,982.75 615.10,982.90 615.50,982.92 615.90,982.53 616.30,982.61 616.70,982.55 617.10,982.85 617.50,982.83 617.90,982.78 618.30,982.65 618.70,982.34 619.10,982.54 619.50,982.54 619.90,982.86 620.30,982.88 620.70,982.83 621.10,982.71 621.50,982.59 621.90,982.54 622.30,982.70 622.70,982.62 623.10,982.61 623.50,982.30 623.90,982.27 624.30,982.04 624.70,982.18 625.10,982.22 625.50,982.44 625.90,982.24 626.30,982.21 626.70,982.14 627.10,982.21 627.50,982.68 627.90,982.94 628.30,983.02 628.70,982.47 629.10,982.37 629.50,982.10 629.90,982.41 630.30,982.39 630.70,982.56 631.10,982.44 631.50,982.39 631.90,982.17 632.30,982.26 632.70,982.15 633.10,982.20 633.50,982.07 633.90,982.17 634.30,982.37 634.70,982.55 635.10,982.69 635.50,982.68 635.90,982.54 636.30,982.63 636.70,982.34 637.10,982.39 637.50,982.14 637.90,982.22 638.30,982.17 638.70,982.25 639.10,982.50 639.50,982.66 639.90,982.39 640.30,982.29 640.70,982.41 641.10,982.86 641.50,983.07 641.90,982.81 642.30,982.49 642.70,982.13 643.10,982.22 643.50,982.55 643.90,982.61 644.30,982.47 644.70,982.37 645.10,982.23 645.50,982.22 645.90,982.41 646.30,982.96 646.70,982.99 647.10,983.02 647.50,982.64 647.90,982.54 648.30,981.97 648.70,982.18 649.10,982.24 649.50,982.88 649.90,982.80 650.30,982.88 650.70,982.30 651.10,982.46 651.50,982.38 651.90,982.61 652.30,982.09 652.70,982.27 653.10,982.43 653.50,982.66 653.90,982.54 654.30,982.46 654.70,982.68 655.10,982.68 655.50,982.87 655.90,982.70 656.30,982.60 656.70,982.29 657.10,981.97 657.50,981.94 657.90,982.15 658.30,982.54 658.70,982.54 659.10,982.45 659.50,982.13 659.90,982.20 660.30,982.23 660.70,982.61 661.10,982.54 661.50,982.59 661.90,982.76 662.30,982.81 662.70,982.78 663.10,982.30 663.50,982.09 663.90,982.07 664.30,982.29 664.70,982.60 665.10,982.43 665.50,982.38 665.90,982.47 666.30,982.79 666.70,982.80 667.10,982.46 667.50,982.40 667.90,982.51 668.30,982.84 668.70,982.68 669.10,982.92 669.50,982.84 669.90,982.89 670.30,982.30 670.70,982.21 671.10,982.04 671.50,982.30 671.90,982.43 672.30,982.42 672.70,982.66 673.10,982.47 673.50,982.51 673.90,982.30 674.30,982.27 674.70,982.42 675.10,982.47 675.50,982.61 675.90,982.79 676.30,982.72 676.70,982.80 677.10,982.39 677.50,982.15 677.90,982.02 678.30,982.11 678.70,982.28 679.10,982.48 679.50,982.19 679.90,982.09 680.30,981.73 680.70,982.25 681.10,982.33 681.50,982.52 681.90,982.17 682.30,982.38 682.70,982.39 683.10,982.58 683.50,982.17 683.90,982.39 684.30,982.41 684.70,982.78 685.10,982.78 685.50,982.70 685.90,982.60 686.30,982.53 686.70,982.62 687.10,982.61 687.50,982.51 687.90,982.38 688.30,982.51 688.70,982.64 689.10,982.71 689.50,982.87 689.90,982.53 690.30,982.49 690.70,982.47 691.10,982.63 691.50,982.44 691.90,982.39 692.30,982.53 692.70,982.58 693.10,982.50 693.50,982.28 693.90,982.26 694.30,982.13 694.70,982.20 695.10,982.24 695.50,982.21 695.90,982.13 696.30,982.30 696.70,982.34 697.10,982.59 697.50,982.52 697.90,982.33 698.30,982.04 698.70,982.07 699.10,982.48 699.50,982.78 699.90,982.72 700.00,982.52"/><polyline fill="none" stroke="#000" stroke-width="1" stroke-linejoin="round" points="95.50,982.46 95.90,982.59 96.30,982.41 96.70,982.68 97.10,982.62 97.50,982.64 97.90,982.57 98.30,982.34 98.70,982.37 99.10,982.47 99.50,983.20 99.90,983.31 100.30,983.17 100.70,982.45 101.10,982.50 101.50,982.25 101.90,982.28 102.30,982.19 102.70,982.25 103.10,982.58 103.50,982.68 103.90,982.77 104.30,982.48 104.70,982.14 105.10,982.02 105.50,982.16 105.90,982.43 106.30,982.68 106.70,982.65 107.10,982.49 107.50,982.49 107.90,982.25 108.30,982.33 108.70,982.48 109.10,982.87 109.50,982.81 109.90,982.55 110.30,982.56 110.70,982.88 111.10,982.72 111.50,982.46 111.90,982.24 112.30,982.62 112.70,982.57 113.10,982.62 113.50,982.41 113.90,982.86 114.30,982.83 114.70,982.86 115.10,982.48 115.50,982.56 115.90,982.68 116.30,982.57 116.70,982.45 117.10,982.17 117.50,982.22 117.90,982.00 118.30,982.01 118.70,982.02 119.10,982.06 119.50,982.32 119.90,982.53 120.30,982.63 120.70,982.40 121.10,982.40 121.50,982.15 121.90,982.04 122.30,982.03 122.70,982.40 123.10,982.81 123.50,982.68 123.90,982.41 124.30,982.20 124.70,982.31 125.10,982.38 125.50,982.35 125.90,982.08 126.30,982.02 126.70,982.24 127.10,982.50 127.50,982.50 127.90,982.23 128.30,982.09 128.70,982.33 129.10,982.31 129.50,982.37 129.90,981.99 130.30,981.98 130.70,982.06 131.10,982.49 131.50,982.50 131.90,982.34 132.30,982.32 132.70,982.43 133.10,982.46 133.50,982.42 133.90,982.51 134.30,982.74 134.70,982.78 135.10,982.67 135.50,982.50 135.90,982.38 136.30,982.27 136.70,982.15 137.10,982.29 137.50,982.26 137.90,982.54 138.30,982.44 138.70,982.64 139.10,982.58 139.50,982.60 139.90,982.79 140.30,982.66 140.70,982.56 141.10,982.36 141.50,982.68 141.90,982.84 142.30,982.75 142.70,982.44 143.10,982.21 143.50,982.34 143.90,982.42 144.30,982.84 144.70,982.58 145.10,982.69 145.50,982.43 145.90,982.59 146.30,982.42 146.70,982.29 147.10,982.40 147.50,982.56 147.90,982.42 148.30,982.60 148.70,982.40 149.10,982.83 149.50,982.70 149.90,982.93 150.30,982.79 150.70,982.89 151.10,982.72 151.50,982.53 151.90,982.47 152.30,982.56 152.70,982.97 153.10,982.60 153.50,982.47 153.90,982.33 154.30,982.43 154.70,982.43 155.10,982.57 155.50,982.95 155.90,982.86 156.30,982.76 156.70,982.73 157.10,982.96 157.50,982.81 157.90,982.68 158.30,982.45 158.70,982.33 159.10,982.40 159.50,982.54 159.90,982.87 160.30,982.72 160.70,982.36 161.10,982.06 161.50,982.14 161.90,982.53 162.30,982.59 162.70,982.44 163.10,982.59 163.50,982.49 163.90,982.70 164.30,982.45 164.70,982.38 165.10,982.48 165.50,982.17 165.90,982.22 166.30,982.08 166.70,982.38 167.10,982.60 167.50,982.53 167.90,982.52 168.30,982.71 168.70,982.70 169.10,982.74 169.50,982.29 169.90,982.21 170.30,982.32 170.70,982.56 171.10,982.66 171.50,982.47 171.90,982.49 172.30,982.25 172.70,982.30 173.10,982.17 173.50,982.29 173.90,982.36 174.30,982.30 174.70,982.31 175.10,982.54 175.50,982.74 175.90,983.02 176.30,982.77 176.70,982.80 177.10,982.75 177.50,982.91 177.90,983.11 178.30,982.96 178.70,982.83 179.10,982.49 179.50,982.03 179.90,981.80 180.30,981.81 180.70,982.39 181.10,982.51 181.50,982.66 181.90,982.75 182.30,982.78 182.70,982.82 183.10,982.88 183.50,983.01 183.90,982.67 184.30,982.63 184.70,982.54 185.10,982.63 185.50,982.44 185.90,982.39 186.30,982.59 186.70,982.68 187.10,982.93 187.50,982.86 187.90,982.64 188.30,982.45 188.70,982.49 189.10,982.54 189.50,982.97 189.90,982.82 190.30,982.79 190.70,982.54 191.10,982.68 191.50,982.76 191.90,982.57 192.30,982.52 192.70,982.64 193.10,982.78 193.50,982.68 193.90,982.63 194.30,982.64 194.70,982.79 195.10,982.29 195.50,982.05 195.90,981.83 196.30,982.23 196.70,982.38 197.10,982.62 197.50,982.74 197.90,982.70 198.30,982.57 198.70,982.73 199.10,982.66 199.50,982.70 199.90,982.68 200.30,982.81 200.70,982.48 201.10,982.31 201.50,982.21 201.90,982.48 202.30,982.58 202.70,982.70 203.10,982.68 203.50,982.65 203.90,982.65 204.30,982.70 204.70,982.62 205.10,982.59 205.50,982.53 205.90,982.42 206.30,982.39 206.70,982.31 207.10,982.19 207.50,982.37 207.90,982.47 208.30,982.65 208.70,982.44 209.10,982.48 209.50,982.49 209.90,982.52 210.30,982.40 210.70,982.53 211.10,982.42 211.50,982.68 211.90,982.28 212.30,982.23 212.70,982.22 213.10,982.47 213.50,982.52 213.90,982.44 214.30,982.31 214.70,982.42 215.10,982.05 215.50,982.14 215.90,982.04 216.30,982.42 216.70,982.61 217.10,982.58 217.50,982.73 217.90,982.52 218.30,982.35 218.70,981.80 219.10,982.09 219.50,982.37 219.90,982.61 220.30,982.29 220.70,982.15 221.10,982.43 221.50,982.52 221.90,982.93 222.30,982.71 222.70,982.39 223.10,982.26 223.50,982.24 223.90,982.53 224.30,982.63 224.70,982.65 225.10,982.85 225.50,982.63 225.90,982.56 226.30,982.47 226.70,982.38 227.10,982.66 227.50,982.72 227.90,982.82 228.30,982.73 228.70,982.67 229.10,982.63 229.50,982.67 229.90,982.55 230.30,982.68 230.70,982.42 231.10,982.47 231.50,982.44 231.90,982.46 232.30,982.39 232.70,982.26 233.10,982.47 233.50,982.43 233.90,982.56 234.30,982.68 234.70,982.83 235.10,982.54 235.50,982.34 235.90,982.44 236.30,982.63 236.70,982.76 237.10,982.70 237.50,982.80 237.90,982.61 238.30,982.45 238.70,982.36 239.10,982.40 239.50,982.55 239.90,982.64 240.30,982.59 240.70,982.53 241.10,982.53 241.50,982.34 241.90,982.22 242.30,982.06 242.70,982.26 243.10,982.33 243.50,982.40 243.90,982.31 244.30,982.44 244.70,982.52 245.10,982.41 245.50,982.32 245.90,982.12 246.30,982.59 246.70,982.52 247.10,982.63 247.50,982.40 247.90,982.44 248.30,982.48 248.70,982.69 249.10,982.75 249.50,982.87 249.90,982.81 250.30,982.65 250.70,982.76 251.10,982.70 251.50,982.97 251.90,982.62 252.30,982.63 252.70,982.56 253.10,982.60 253.50,982.81 253.90,982.83 254.30,982.87 254.70,982.58 255.10,982.63 255.50,982.82 255.90,982.87 256.30,982.92 256.70,982.97 257.10,982.71 257.50,982.47 257.90,982.14 258.30,982.32 258.70,982.59 259.10,982.82 259.50,982.66 259.90,982.41 260.30,982.46 260.70,982.54 261.10,982.56 261.50,982.46 261.90,982.28 262.30,982.41 262.70,982.41 263.10,982.75 263.50,982.50 263.90,982.34 264.30,982.18 264.70,982.35 265.10,982.47 265.50,982.57 265.90,982.79 266.30,982.96 266.70,982.84 267.10,982.50 267.50,982.56 267.90,982.61 268.30,982.90 268.70,982.88 269.10,982.85 269.50,982.62 269.90,982.41 270.30,982.36 270.70,982.26 271.10,982.19 271.50,982.43 271.90,982.51 272.30,982.54 272.50,982.35 272.70,982.21 273.10,982.36 273.50,981.92 273.90,981.76 274.30,981.26 274.70,980.93 274.80,980.98 275.10,979.51 275.50,974.44 275.90,966.77 276.20,959.76 276.30,957.27 276.70,940.11 277.10,916.07 277.50,889.16 277.90,863.67 278.10,852.95 278.30,842.84 278.70,822.83 279.10,804.25 279.50,788.37 279.60,784.91 279.90,774.63 280.30,760.93 280.70,751.31 281.00,748.34 281.10,748.66 281.50,755.32 281.90,767.71 282.30,781.71 282.40,784.68 282.70,795.69 283.10,812.47 283.50,830.65 283.90,847.85 284.00,851.95 284.30,864.50 284.70,880.82 285.10,896.15 285.50,908.59 285.90,919.55 286.30,929.11 286.70,937.72 287.10,943.86 287.20,945.23 287.50,948.55 287.90,953.22 288.30,957.11 288.70,960.36 289.10,962.94 289.40,964.46 289.50,965.01 289.90,967.11 290.30,968.98 290.70,970.64 291.10,972.19 291.50,973.64 291.90,974.69 292.00,974.82 292.30,975.38 292.70,976.31 293.10,977.00 293.50,977.74 293.90,978.46 294.30,979.14 294.70,979.42 295.00,979.85 295.10,980.08 295.50,980.37 295.90,980.37 296.30,980.56 296.70,980.75 297.10,981.05 297.50,981.08 297.90,981.27 298.30,981.32 298.50,981.15 298.70,981.23 299.10,981.10 299.50,981.75 299.90,982.14 300.30,982.69 300.70,982.51 301.10,982.52 301.50,982.61 301.90,982.78 302.30,982.83 302.70,982.57 303.10,982.53 303.50,982.35 303.90,982.32 304.00,982.10 304.30,982.24 304.70,982.55 305.10,982.52 305.50,982.70 305.90,982.76 306.30,982.90 306.70,982.59 307.10,982.37 307.50,982.56 307.90,982.58 308.30,982.43 308.70,982.34 309.10,982.11 309.50,982.28 309.90,982.39 310.30,982.73 310.70,982.81 311.10,982.72 311.50,982.78 311.90,982.69 312.30,982.51 312.70,982.37 313.10,982.34 313.50,982.63 313.90,982.89 314.30,982.96 314.70,982.68 315.10,982.35 315.50,982.27 315.90,982.57 316.30,982.72 316.70,982.73 317.10,982.43 317.50,982.51 317.90,982.56 318.30,982.66 318.70,982.55 319.10,982.74 319.50,982.73 319.90,982.95 320.30,982.89 320.70,982.92 321.10,982.80 321.50,982.61 321.90,982.49 322.30,982.33 322.70,982.22 323.10,982.41 323.50,982.45 323.90,982.65 324.30,982.70 324.70,982.26 325.10,982.22 325.50,981.85 325.90,982.31 326.30,982.15 326.70,982.42 327.10,982.58 327.50,982.47 327.90,982.48 328.30,982.28 328.70,982.25 329.10,982.31 329.50,982.33 329.90,982.52 330.30,982.33 330.70,982.78 331.10,982.79 331.50,982.64 331.90,982.06 332.30,982.07 332.70,982.26 333.10,982.38 333.50,982.29 333.90,982.42 334.30,982.36 334.70,982.32 335.10,982.13 335.50,982.14 335.90,982.45 336.30,982.63 336.70,982.64 337.10,982.52 337.50,982.49 337.90,982.82 338.30,982.73 338.70,982.76 339.10,982.58 339.50,982.53 339.90,982.49 340.30,982.42 340.70,982.48 341.10,982.54 341.50,982.66 341.90,982.88 342.30,982.78 342.70,982.66 343.10,982.83 343.50,982.70 343.90,982.71 344.30,982.50 344.70,982.68 345.10,982.74 345.50,982.64 345.90,982.72 346.30,982.81 346.70,982.75 347.10,982.68 347.50,982.49 347.90,982.46 348.30,982.43 348.70,982.28 349.10,982.44 349.50,982.68 349.90,983.08 350.30,983.16 350.70,982.78 351.10,982.76 351.50,982.48 351.90,982.61 352.30,982.65 352.70,982.60 353.10,982.73 353.50,982.51 353.90,982.64 354.30,982.40 354.70,982.42 355.10,982.37 355.50,982.64 355.90,982.75 356.30,982.62 356.70,982.41 357.10,982.19 357.50,982.22 357.90,982.13 358.30,982.19 358.70,982.33 359.10,982.25 359.50,982.16 359.90,982.27 360.30,982.33 360.70,982.27 361.10,982.42 361.50,982.78 361.90,982.68 362.30,982.27 362.70,982.14 363.10,982.20 363.50,982.35 363.90,982.23 364.30,982.48 364.70,982.16 365.10,981.92 365.50,981.67 365.90,982.16 366.30,982.45 366.70,982.38 367.10,982.31 367.50,982.43 367.90,982.63 368.30,982.52 368.70,982.48 369.10,982.68 369.50,982.75 369.90,982.77 370.30,982.59 370.70,982.51 371.10,982.31 371.50,982.35 371.90,982.37 372.30,982.46 372.70,982.55 373.10,982.66 373.50,982.82 373.90,982.47 374.30,982.48 374.70,982.28 375.10,982.38 375.50,982.18 375.90,982.44 376.30,982.67 376.70,982.69 377.10,982.36 377.50,982.24 377.90,982.28 378.30,982.67 378.70,982.46 379.10,982.27 379.50,982.00 379.90,982.21 380.30,982.48 380.70,982.63 381.10,982.91 381.50,982.85 381.90,982.67 382.30,982.13 382.70,982.21 383.10,982.41 383.50,982.62 383.90,982.75 384.30,982.63 384.70,982.88 385.10,982.76 385.50,982.61 385.90,982.31 386.30,982.05 386.70,981.95 387.10,982.08 387.50,982.42 387.90,982.93 388.30,982.89 388.70,982.73 389.10,982.30 389.50,982.45 389.90,982.54 390.30,982.61 390.70,982.57 391.10,982.59 391.50,982.41 391.90,982.42 392.30,982.36 392.70,982.57 393.10,982.41 393.50,982.63 393.90,982.90 394.30,983.22 394.70,982.81 395.10,982.50 395.50,982.37 395.90,982.37 396.30,982.36 396.70,981.98 397.10,982.41 397.50,982.66 397.90,982.97 398.30,982.74 398.70,982.54 399.10,982.42 399.50,982.47 399.90,982.43 400.30,982.66 400.70,982.50 401.10,982.48 401.50,982.49 401.90,982.54 402.30,982.74 402.70,982.50 403.10,982.20 403.50,982.20 403.90,982.07 404.30,982.54 404.70,982.25 405.10,982.17 405.50,982.06 405.90,982.34 406.30,982.62 406.70,982.40 407.10,982.47 407.50,982.25 407.90,982.35 408.30,982.12 408.70,982.27 409.10,982.46 409.50,982.48 409.90,982.61 410.30,982.59 410.70,982.44 411.10,982.19 411.50,982.04 411.90,982.20 412.30,982.41 412.70,982.19 413.10,982.37 413.50,982.43 413.90,982.68 414.30,982.39 414.70,982.28 415.10,982.23 415.50,982.50 415.90,982.49 416.30,982.67 416.70,982.53 417.10,982.74 417.50,982.32 417.90,982.24 418.30,982.10 418.70,982.21 419.10,982.46 419.50,982.22 419.90,982.45 420.30,982.21 420.70,982.32 421.10,982.33 421.50,982.45 421.90,982.46 422.30,982.73 422.70,982.75 423.10,982.67 423.50,982.50 423.90,982.61 424.30,982.92 424.70,983.04 425.10,982.79 425.50,982.77 425.90,982.68 426.30,982.81 426.70,982.69 427.10,982.11 427.50,982.03 427.90,982.25 428.30,982.42 428.70,982.43 429.10,982.22 429.50,982.55 429.90,982.85 430.30,982.56 430.70,982.49 431.10,982.38 431.50,982.44 431.90,982.43 432.30,982.57 432.70,982.94 433.10,983.02 433.50,982.39 433.90,982.19 434.30,982.17 434.70,982.49 435.10,982.50 435.50,982.88 435.90,982.89 436.30,982.77 436.70,982.37 437.10,982.35 437.50,982.45 437.90,982.40 438.30,982.55 438.70,982.63 439.10,982.47 439.50,982.35 439.90,982.38 440.30,982.48 440.70,982.66 441.10,982.70 441.50,982.63 441.90,982.51 442.30,982.68 442.70,983.04 443.10,982.99 443.50,982.84 443.90,982.52 444.30,982.33 444.70,982.28 445.10,982.41 445.50,982.68 445.90,982.60 446.30,982.61 446.70,982.47 447.10,982.54 447.50,982.61 447.90,982.67 448.30,982.72 448.70,982.36 449.10,982.26 449.50,982.34 449.90,982.84 450.30,982.98 450.70,982.77 451.10,982.34 451.50,982.36 451.90,982.48 452.30,982.45 452.70,982.48 453.10,982.44 453.50,982.71 453.90,982.47 454.30,982.48 454.70,982.21 455.10,982.57 455.50,982.52 455.90,982.56 456.30,982.54 456.70,982.69 457.10,982.76 457.50,982.88 457.90,982.58 458.30,982.71 458.70,982.57 459.10,982.39 459.50,982.49 459.90,982.31 460.30,982.63 460.70,982.34 461.10,982.39 461.50,982.24 461.90,982.26 462.30,982.15 462.70,982.13 463.10,982.49 463.50,982.36 463.90,982.43 464.30,982.16 464.70,982.35 465.10,982.57 465.50,982.73 465.90,982.68 466.30,982.52 466.70,982.41 467.10,982.57 467.50,982.72 467.90,982.64 468.30,982.24 468.70,982.44 469.10,982.64 469.50,982.97 469.90,982.72 470.30,982.51 470.70,982.33 471.10,982.24 471.50,982.28 471.90,982.33 472.30,982.18 472.70,982.16 473.10,982.33 473.50,982.47 473.90,982.51 474.30,982.14 474.70,982.18 475.10,982.16 475.50,982.28 475.90,982.07 476.30,982.14 476.70,982.20 477.10,982.51 477.50,982.40 477.90,982.60 478.30,982.48 478.70,982.33 479.10,982.23 479.50,982.23 479.90,982.53 480.30,982.48 480.70,982.47 481.10,982.50 481.50,982.73 481.90,982.89 482.30,982.91 482.70,982.82 483.10,982.82 483.50,982.79 483.90,982.79 484.30,982.69 484.70,982.59 485.10,982.87 485.50,982.86 485.90,982.81 486.30,982.42 486.70,982.41 487.10,982.48 487.50,982.37 487.90,982.10 488.30,982.11 488.70,982.04 489.10,982.35 489.50,982.33 489.90,982.72 490.30,982.91 490.70,982.95 491.10,982.71 491.50,982.31 491.90,982.15 492.30,982.23 492.70,982.11 493.10,982.23 493.50,982.22 493.90,982.60 494.30,982.54 494.70,982.56 495.10,982.36 495.50,982.35 495.90,982.08 496.30,982.20 496.70,982.49 497.10,982.76 497.50,982.79 497.90,982.44 498.30,982.61 498.70,982.46 499.10,982.71 499.50,982.52 499.90,982.49 500.30,982.52 500.70,982.51 501.10,982.67 501.50,982.59 501.90,982.59 502.30,982.51 502.70,982.51 503.10,982.46 503.50,982.52 503.90,982.36 504.30,982.21 504.70,982.10 505.10,982.13 505.50,982.34 505.90,982.60 506.30,982.43 506.70,982.45 507.10,981.97 507.50,982.06 507.90,981.97 508.30,981.97 508.70,981.85 509.10,981.95 509.50,982.27 509.90,982.52 510.30,982.38 510.70,982.67 511.10,982.67 511.50,982.66 511.90,982.59 512.30,982.70 512.70,982.77 513.10,982.70 513.50,982.64 513.90,982.78 514.30,982.64 514.70,982.48 515.10,982.52 515.50,982.51 515.90,982.52 516.30,982.27 516.70,982.39 517.10,982.48 517.50,982.59 517.90,982.55 518.30,982.62 518.70,982.40 519.10,982.39 519.50,982.51 519.90,982.84 520.30,982.98 520.70,982.90 521.10,982.89 521.50,982.88 521.90,982.79 522.30,982.92 522.70,982.95 523.10,983.10 523.50,983.11 523.90,982.99 524.30,982.75 524.70,982.66 525.10,982.58 525.50,982.76 525.90,982.63 526.30,982.77 526.70,982.79 527.10,982.67 527.50,982.55 527.90,982.57 528.30,982.57 528.70,982.44 529.10,982.28 529.50,982.30 529.90,982.41 530.30,982.61 530.70,982.96 531.10,983.07 531.50,983.08 531.90,982.97 532.30,982.99 532.70,982.79 533.10,982.73 533.50,982.59 533.90,982.62 534.30,982.46 534.70,982.35 535.10,982.33 535.50,982.22 535.90,982.36 536.30,982.40 536.70,982.58 537.10,982.56 537.50,982.66 537.90,982.57 538.30,982.50 538.70,982.18 539.10,981.95 539.50,981.69 539.90,982.13 540.30,982.19 540.70,982.53 541.10,982.52 541.50,982.71 541.90,982.87 542.30,982.92 542.70,983.12 543.10,983.22 543.50,983.05 543.90,982.82 544.30,982.56 544.70,982.41 545.10,982.33 545.50,982.08 545.90,982.46 546.30,982.57 546.70,982.75 547.10,982.33 547.50,982.43 547.90,982.40 548.30,982.43 548.70,982.24 549.10,982.08 549.50,982.03 549.90,982.24 550.30,982.73 550.70,982.98 551.10,983.20 551.50,982.98 551.90,982.82 552.30,982.38 552.70,982.31 553.10,982.02 553.50,982.16 553.90,982.39 554.30,982.74 554.70,982.94 555.10,982.66 555.50,982.42 555.90,982.19 556.30,982.19 556.70,982.55 557.10,982.90 557.50,982.85 557.90,982.63 558.30,982.34 558.70,982.39 559.10,982.27 559.50,982.30 559.90,982.40 560.30,982.63 560.70,982.45 561.10,982.38 561.50,982.08 561.90,982.38 562.30,982.25 562.70,982.46 563.10,982.27 563.50,982.33 563.90,982.22 564.30,982.03 564.70,982.36 565.10,982.54 565.50,982.83 565.90,982.88 566.30,982.83 566.70,982.87 567.10,982.58 567.50,982.76 567.90,982.75 568.30,982.79 568.70,982.59 569.10,982.56 569.50,982.68 569.90,982.42 570.30,982.37 570.70,982.15 571.10,982.39 571.50,982.14 571.90,982.30 572.30,982.22 572.70,982.47 573.10,982.29 573.50,982.18 573.90,982.15 574.30,981.96 574.70,982.06 575.10,982.08 575.50,982.34 575.90,982.48 576.30,982.50 576.70,982.80 577.10,982.85 577.50,982.70 577.90,982.32 578.30,982.17 578.70,982.31 579.10,982.31 579.50,982.28 579.90,982.54 580.30,982.63 580.70,982.70 581.10,982.44 581.50,982.40 581.90,982.64 582.30,982.75 582.70,982.93 583.10,982.30 583.50,982.28 583.90,982.27 584.30,982.98 584.70,982.94 585.10,982.55 585.50,982.36 585.90,982.27 586.30,982.26 586.70,982.09 587.10,982.33 587.50,982.74 587.90,982.93 588.30,982.64 588.70,982.82 589.10,982.56 589.50,982.69 589.90,982.14 590.30,982.49 590.70,982.56 591.10,982.89 591.50,982.72 591.90,982.64 592.30,982.54 592.70,982.27 593.10,982.42 593.50,982.52 593.90,982.73 594.30,982.59 594.70,982.50 595.10,982.78 595.50,982.84 595.90,982.80 596.30,982.51 596.70,982.24 597.10,982.15 597.50,982.23 597.90,982.41 598.30,982.50 598.70,982.60 599.10,982.69 599.50,982.72 599.90,982.71 600.30,982.68 600.70,982.63 601.10,982.61 601.50,982.34 601.90,982.52 602.30,982.27 602.70,982.63 603.10,982.46 603.50,982.79 603.90,982.68 604.30,982.55 604.70,982.54 605.10,982.56 605.50,982.71 605.90,982.57 606.30,982.69 606.70,982.79 607.10,982.81 607.50,982.45 607.90,982.28 608.30,982.26 608.70,982.73 609.10,982.84 609.50,982.81 609.90,982.73 610.30,982.66 610.70,982.67 611.10,982.52 611.50,982.33 611.90,982.47 612.30,982.51 612.70,982.68 613.10,982.38 613.50,982.35 613.90,982.59 614.30,982.66 614.70,982.48 615.10,982.34 615.50,982.21 615.90,982.05 616.30,981.93 616.70,982.05 617.10,982.33 617.50,982.31 617.90,982.45 618.30,982.46 618.70,982.46 619.10,982.35 619.50,982.46 619.90,982.68 620.30,982.87 620.70,982.88 621.10,982.29 621.50,982.02 621.90,981.88 622.30,982.37 622.70,982.28 623.10,982.53 623.50,982.54 623.90,982.68 624.30,982.50 624.70,982.41 625.10,982.39 625.50,982.44 625.90,982.43 626.30,982.33 626.70,982.18 627.10,982.22 627.50,982.27 627.90,982.53 628.30,982.40 628.70,982.80 629.10,982.74 629.50,982.77 629.90,982.54 630.30,982.58 630.70,982.68 631.10,982.50 631.50,982.35 631.90,982.65 632.30,982.61 632.70,982.67 633.10,982.40 633.50,982.59 633.90,982.46 634.30,982.41 634.70,982.57 635.10,982.71 635.50,982.62 635.90,982.69 636.30,982.43 636.70,982.66 637.10,982.47 637.50,982.82 637.90,982.77 638.30,982.89 638.70,982.72 639.10,982.81 639.50,982.71 639.90,983.01 640.30,982.78 640.70,982.90 641.10,982.66 641.50,982.79 641.90,982.54 642.30,982.54 642.70,982.31 643.10,982.20 643.50,982.23 643.90,982.22 644.30,982.61 644.70,982.48 645.10,982.73 645.50,982.54 645.90,982.64 646.30,982.56 646.70,982.50 647.10,982.42 647.50,982.61 647.90,982.82 648.30,983.02 648.70,982.92 649.10,982.73 649.50,982.32 649.90,982.36 650.30,982.50 650.70,982.68 651.10,982.71 651.50,982.77 651.90,982.84 652.30,982.87 652.70,982.74 653.10,982.48 653.50,982.27 653.90,982.17 654.30,982.48 654.70,982.43 655.10,982.42 655.50,982.22 655.90,982.33 656.30,982.40 656.70,982.67 657.10,982.79 657.50,982.80 657.90,982.70 658.30,982.60 658.70,982.60 659.10,982.78 659.50,982.42 659.90,982.38 660.30,982.20 660.70,982.71 661.10,982.58 661.50,982.59 661.90,982.55 662.30,982.64 662.70,982.32 663.10,982.15 663.50,982.05 663.90,982.41 664.30,982.34 664.70,982.75 665.10,982.68 665.50,982.69 665.90,982.37 666.30,982.20 666.70,982.36 667.10,982.64 667.50,982.77 667.90,982.84 668.30,982.50 668.70,982.57 669.10,982.77 669.50,982.70 669.90,982.83 670.30,982.67 670.70,982.61 671.10,982.23 671.50,981.93 671.90,982.33 672.30,982.47 672.70,982.58 673.10,982.55 673.50,982.62 673.90,982.68 674.30,982.54 674.70,982.68 675.10,982.54 675.50,982.82 675.90,982.61 676.30,982.61 676.70,982.46 677.10,982.57 677.50,982.41 677.90,982.35 678.30,982.10 678.70,982.26 679.10,982.34 679.50,982.40 679.90,982.57 680.30,982.41 680.70,982.80 681.10,982.73 681.50,982.62 681.90,982.20 682.30,982.08 682.70,982.27 683.10,982.42 683.50,982.68 683.90,982.69 684.30,982.71 684.70,982.62 685.10,982.57 685.50,982.60 685.90,982.66 686.30,982.79 686.70,982.67 687.10,982.31 687.50,982.09 687.90,982.21 688.30,982.11 688.70,982.15 689.10,982.17 689.50,982.44 689.90,982.35 690.30,982.54 690.70,982.81 691.10,982.93 691.50,982.87 691.90,982.86 692.30,982.73 692.70,982.92 693.10,982.61 693.50,982.73 693.90,982.20 694.30,982.35 694.70,982.20 695.10,982.35 695.50,982.49 695.90,982.70 696.30,982.67 696.70,982.73 697.10,982.58 697.50,982.75 697.90,982.49 698.30,982.65 698.70,982.51 699.10,982.57 699.50,982.54 699.90,982.42 700.00,982.40"/><polyline fill="none" stroke="#000" stroke-width="1" stroke-linejoin="round" points="95.50,982.50 95.90,982.49 96.30,982.40 96.70,982.24 97.10,982.16 97.50,982.32 97.90,982.44 98.30,982.55 98.70,982.47 99.10,982.44 99.50,982.24 99.90,981.93 100.30,981.91 100.70,981.87 101.10,982.15 101.50,981.98 101.90,982.30 102.30,982.27 102.70,982.47 103.10,982.32 103.50,982.31 103.90,982.05 104.30,982.18 104.70,982.41 105.10,982.74 105.50,982.93 105.90,982.91 106.30,982.84 106.70,982.57 107.10,982.55 107.50,982.46 107.90,982.35 108.30,982.61 108.70,982.40 109.10,982.56 109.50,982.34 109.90,982.63 110.30,982.46 110.70,982.37 111.10,982.28 111.50,982.26 111.90,982.28 112.30,982.29 112.70,982.36 113.10,982.46 113.50,982.37 113.90,982.51 114.30,982.33 114.70,982.54 115.10,982.49 115.50,982.60 115.90,982.41 116.30,982.29 116.70,982.13 117.10,982.30 117.50,982.51 117.90,982.78 118.30,982.68 118.70,982.59 119.10,982.21 119.50,981.97 119.90,981.84 120.30,981.97 120.70,982.07 121.10,981.94 121.50,982.11 121.90,982.21 122.30,982.22 122.70,982.47 123.10,982.61 123.50,982.80 123.90,982.57 124.30,982.44 124.70,982.70 125.10,982.39 125.50,982.32 125.90,982.08 126.30,982.18 126.70,982.56 127.10,982.36 127.50,982.36 127.90,982.20 128.30,982.50 128.70,982.74 129.10,982.76 129.50,982.98 129.90,982.78 130.30,982.75 130.70,982.57 131.10,982.59 131.50,982.52 131.90,982.34 132.30,982.29 132.70,982.17 133.10,982.16 133.50,982.03 133.90,982.24 134.30,982.10 134.70,982.60 135.10,982.79 135.50,983.16 135.90,982.85 136.30,982.53 136.70,982.54 137.10,982.60 137.50,982.76 137.90,982.48 138.30,982.61 138.70,982.42 139.10,982.53 139.50,982.14 139.90,982.16 140.30,982.22 140.70,982.40 141.10,982.42 141.50,982.46 141.90,982.52 142.30,982.75 142.70,982.31 143.10,982.39 143.50,982.29 143.90,982.41 144.30,982.15 144.70,982.20 145.10,982.27 145.50,982.36 145.90,982.32 146.30,982.43 146.70,982.58 147.10,982.38 147.50,982.47 147.90,982.55 148.30,982.72 148.70,982.37 149.10,982.31 149.50,982.27 149.90,982.45 150.30,982.55 150.70,982.30 151.10,982.69 151.50,982.41 151.90,982.87 152.30,982.60 152.70,982.51 153.10,982.30 153.50,982.35 153.90,982.61 154.30,982.75 154.70,982.58 155.10,982.57 155.50,982.52 155.90,982.61 156.30,982.41 156.70,982.18 157.10,982.32 157.50,982.56 157.90,982.58 158.30,982.29 158.70,982.35 159.10,982.25 159.50,982.46 159.90,982.17 160.30,982.14 160.70,982.14 161.10,982.22 161.50,982.67 161.90,982.97 162.30,982.97 162.70,982.91 163.10,982.74 163.50,982.69 163.90,982.43 164.30,982.51 164.70,982.53 165.10,982.65 165.50,982.38 165.90,982.41 166.30,982.33 166.70,982.48 167.10,982.67 167.50,982.70 167.90,982.41 168.30,982.24 168.70,982.08 169.10,982.19 169.50,982.35 169.90,982.88 170.30,983.02 170.70,982.70 171.10,982.49 171.50,982.12 171.90,982.18 172.30,982.28 172.70,982.70 173.10,982.60 173.50,982.16 173.90,982.17 174.30,982.36 174.70,982.51 175.10,982.44 175.50,982.37 175.90,982.19 176.30,982.24 176.70,982.23 177.10,982.36 177.50,982.06 177.90,982.19 178.30,982.21 178.70,982.49 179.10,982.41 179.50,982.68 179.90,982.54 180.30,982.48 180.70,982.06 181.10,981.96 181.50,982.15 181.90,982.85 182.30,982.83 182.70,982.58 183.10,982.20 183.50,982.45 183.90,982.50 184.30,982.46 184.70,982.17 185.10,982.22 185.50,982.34 185.90,982.79 186.30,982.81 186.70,982.64 187.10,982.48 187.50,982.66 187.90,982.76 188.30,982.59 188.70,982.49 189.10,982.56 189.50,982.56 189.90,982.33 190.30,982.26 190.70,982.41 191.10,982.73 191.50,982.68 191.90,982.53 192.30,982.34 192.70,982.18 193.10,982.14 193.50,982.12 193.90,982.20 194.30,982.49 194.70,982.39 195.10,982.46 195.50,982.22 195.90,982.60 196.30,982.64 196.70,982.67 197.10,982.58 197.50,982.55 197.90,982.54 198.30,982.64 198.70,982.73 199.10,983.03 199.50,982.98 199.90,982.99 200.30,982.77 200.70,982.46 201.10,982.45 201.50,982.44 201.90,982.68 202.30,982.58 202.70,982.48 203.10,982.24 203.50,982.34 203.90,982.62 204.30,982.72 204.70,982.68 205.10,982.70 205.50,982.62 205.90,982.51 206.30,982.16 206.70,982.44 207.10,982.53 207.50,982.62 207.90,982.22 208.30,982.16 208.70,982.37 209.10,982.56 209.50,982.52 209.90,982.47 210.30,982.34 210.70,982.41 211.10,982.40 211.50,982.47 211.90,982.34 212.30,982.29 212.70,982.39 213.10,982.47 213.50,982.47 213.90,982.51 214.30,982.41 214.70,982.29 215.10,982.32 215.50,982.61 215.90,982.89 216.30,982.71 216.70,982.71 217.10,982.62 217.50,982.74 217.90,982.65 218.30,982.66 218.70,982.92 219.10,982.70 219.50,982.67 219.90,982.40 220.30,982.52 220.70,982.60 221.10,982.73 221.50,982.62 221.90,982.42 222.30,982.34 222.70,982.28 223.10,982.44 223.50,982.40 223.90,982.62 224.30,982.55 224.70,982.81 225.10,982.79 225.50,982.69 225.90,982.68 226.30,982.61 226.70,982.59 227.10,982.15 227.50,982.37 227.90,982.48 228.30,982.74 228.70,982.61 229.10,982.56 229.50,982.38 229.90,982.25 230.30,982.33 230.70,982.46 231.10,982.79 231.50,982.63 231.90,982.54 232.30,982.17 232.70,982.47 233.10,982.37 233.50,982.62 233.90,982.62 234.30,982.77 234.70,982.77 235.10,982.27 235.50,982.24 235.90,981.91 236.30,982.23 236.70,982.28 237.10,982.41 237.50,982.51 237.90,982.56 238.30,982.60 238.70,982.39 239.10,982.14 239.50,982.19 239.90,982.55 240.30,982.66 240.70,982.74 241.10,982.37 241.50,982.58 241.90,982.59 242.30,982.63 242.70,982.27 243.10,982.14 243.50,982.34 243.90,982.55 244.30,982.71 244.70,982.48 245.10,982.25 245.50,982.22 245.90,982.33 246.30,982.51 246.70,982.40 247.10,982.40 247.50,982.40 247.90,982.50 248.30,982.43 248.70,982.18 249.10,982.12 249.50,982.06 249.90,982.27 250.30,982.35 250.70,982.36 251.10,982.55 251.50,982.65 251.90,982.74 252.30,982.45 252.70,982.19 253.10,982.30 253.50,982.48 253.90,982.47 254.30,982.33 254.70,982.44 255.10,982.58 255.50,982.69 255.90,982.50 256.30,982.43 256.70,982.30 257.10,982.42 257.50,982.16 257.90,982.17 258.30,981.98 258.70,982.47 259.10,982.71 259.50,983.13 259.90,983.05 260.30,982.77 260.70,982.67 261.10,982.53 261.50,982.68 261.90,982.42 262.30,982.37 262.70,982.35 263.10,982.72 263.50,982.80 263.90,983.05 264.30,983.18 264.70,983.01 265.10,982.69 265.50,982.18 265.90,982.34 266.30,982.27 266.70,982.39 267.10,982.54 267.50,982.75 267.90,982.79 268.30,982.66 268.70,982.55 269.10,982.53 269.50,982.61 269.90,982.59 270.30,982.64 270.70,982.38 271.10,982.49 271.50,982.66 271.90,982.87 272.30,982.57 272.70,982.51 273.10,982.44 273.50,982.22 273.90,982.00 274.30,982.13 274.70,982.60 275.10,982.80 275.50,982.81 275.90,982.77 276.30,982.32 276.70,982.08 277.10,982.09 277.50,982.46 277.90,982.47 278.30,982.36 278.70,982.33 279.10,982.21 279.50,982.03 279.90,981.93 280.30,982.23 280.70,982.43 281.10,982.15 281.50,982.11 281.90,982.00 282.30,982.40 282.70,982.39 283.10,982.61 283.50,982.61 283.90,982.55 284.30,982.63 284.70,982.71 285.10,982.84 285.50,982.91 285.90,982.65 286.30,982.72 286.70,982.57 287.10,982.52 287.50,982.38 287.90,982.27 288.30,982.33 288.70,982.36 289.10,982.58 289.50,982.61 289.90,982.62 290.30,982.26 290.70,982.32 291.00,982.47 291.10,982.78 291.50,982.78 291.90,982.43 292.30,982.02 292.70,981.72 293.10,981.34 293.50,981.01 293.60,981.07 293.90,980.77 294.30,980.40 294.70,978.98 295.10,977.81 295.50,975.84 295.90,974.36 296.00,973.71 296.30,972.37 296.70,969.79 297.10,966.82 297.50,963.39 297.90,959.75 298.30,955.57 298.70,951.25 299.10,945.65 299.50,939.05 299.90,932.14 300.30,925.23 300.70,919.90 301.10,914.89 301.50,910.88 301.90,907.73 302.30,907.25 302.70,908.21 303.10,910.69 303.50,913.23 303.80,915.36 303.90,915.96 304.30,919.98 304.70,924.91 305.10,929.87 305.50,934.17 305.60,934.89 305.90,937.37 306.30,940.59 306.70,943.89 307.10,946.75 307.50,949.48 307.70,950.81 307.90,952.35 308.30,955.39 308.70,958.28 309.10,961.04 309.50,963.21 309.80,964.68 309.90,965.19 310.30,967.00 310.70,968.84 311.10,970.24 311.50,971.83 311.90,973.38 312.30,975.04 312.70,976.60 313.00,977.19 313.10,977.45 313.50,978.46 313.90,978.63 314.10,978.78 314.30,978.50 314.70,979.16 315.10,979.31 315.50,979.23 315.90,979.59 316.30,979.85 316.70,980.55 317.10,980.47 317.50,980.64 317.90,980.66 318.30,981.04 318.70,981.38 319.10,981.42 319.50,981.42 319.90,981.28 320.30,981.41 320.70,981.37 321.00,981.51 321.10,981.40 321.50,981.17 321.90,980.75 322.30,980.38 322.70,979.82 323.00,979.73 323.10,979.56 323.50,979.34 323.90,978.68 324.30,978.58 324.60,978.08 324.70,978.35 325.10,978.34 325.50,978.85 325.90,979.02 326.30,979.78 326.50,980.19 326.70,980.15 327.10,980.07 327.50,980.47 327.90,980.72 328.30,981.01 328.70,980.99 329.00,981.62 329.10,981.65 329.50,982.03 329.90,981.79 330.30,981.87 330.70,981.97 331.10,982.28 331.50,982.26 331.90,982.31 332.30,982.38 332.70,982.57 333.00,982.52 333.10,982.47 333.50,982.49 333.90,982.38 334.30,982.24 334.70,982.27 335.10,982.17 335.50,982.26 335.90,982.09 336.30,982.28 336.70,982.28 337.10,982.34 337.50,982.45 337.90,982.73 338.30,983.06 338.70,982.75 339.10,982.66 339.50,982.50 339.90,982.69 340.30,982.43 340.70,982.39 341.10,982.60 341.50,982.75 341.90,982.70 342.30,982.41 342.70,982.28 343.10,982.42 343.50,982.77 343.90,982.68 344.30,982.60 344.70,982.28 345.10,982.33 345.50,982.38 345.90,982.51 346.30,982.42 346.70,982.22 347.10,982.31 347.50,982.55 347.90,982.77 348.30,982.53 348.70,982.44 349.10,982.43 349.50,982.43 349.90,982.33 350.30,982.26 350.70,982.46 351.10,982.47 351.50,982.61 351.90,982.59 352.30,982.61 352.70,982.46 353.10,982.36 353.50,982.57 353.90,982.66 354.30,982.49 354.70,982.21 355.10,982.26 355.50,982.46 355.90,982.70 356.30,982.61 356.70,982.80 357.10,982.58 357.50,982.68 357.90,982.36 358.30,982.62 358.70,982.66 359.10,982.58 359.50,982.54 359.90,982.31 360.30,982.46 360.70,982.41 361.10,982.31 361.50,982.21 361.90,982.30 362.30,982.56 362.70,982.62 363.10,982.32 363.50,982.53 363.90,982.76 364.30,983.01 364.70,982.55 365.10,982.31 365.50,982.30 365.90,982.31 366.30,982.61 366.70,982.59 367.10,982.78 367.50,982.42 367.90,982.27 368.30,982.11 368.70,982.29 369.10,982.38 369.50,982.45 369.90,982.45 370.30,982.52 370.70,982.77 371.10,982.69 371.50,982.52 371.90,982.32 372.30,982.55 372.70,982.61 373.10,982.62 373.50,982.37 373.90,982.50 374.30,982.53 374.70,982.47 375.10,982.38 375.50,982.47 375.90,982.74 376.30,982.89 376.70,982.88 377.10,982.69 377.50,982.51 377.90,982.52 378.30,982.40 378.70,982.44 379.10,982.06 379.50,982.17 379.90,982.08 380.30,982.17 380.70,982.30 381.10,982.30 381.50,982.41 381.90,982.30 382.30,982.30 382.70,982.55 383.10,982.51 383.50,982.64 383.90,982.27 384.30,982.27 384.70,982.20 385.10,982.33 385.50,982.32 385.90,982.38 386.30,982.64 386.70,982.70 387.10,982.66 387.50,982.40 387.90,982.76 388.30,983.00 388.70,983.13 389.10,982.88 389.50,982.56 389.90,982.46 390.30,982.40 390.70,982.51 391.10,982.41 391.50,982.28 391.90,982.33 392.30,982.49 392.70,982.31 393.10,982.25 393.50,982.38 393.90,982.59 394.30,982.61 394.70,982.23 395.10,982.43 395.50,982.25 395.90,982.28 396.30,982.12 396.70,982.60 397.10,982.69 397.50,982.56 397.90,982.29 398.30,982.41 398.70,982.81 399.10,982.57 399.50,982.32 399.90,982.05 400.30,982.28 400.70,982.54 401.10,982.74 401.50,982.48 401.90,982.32 402.30,982.15 402.70,982.47 403.10,982.65 403.50,982.61 403.90,982.35 404.30,982.41 404.70,982.60 405.10,983.11 405.50,982.97 405.90,983.06 406.30,982.52 406.70,982.47 407.10,982.15 407.50,982.26 407.90,982.21 408.30,982.23 408.70,982.29 409.10,982.34 409.50,982.51 409.90,982.50 410.30,982.57 410.70,982.68 411.10,982.73 411.50,982.75 411.90,982.55 412.30,982.51 412.70,982.57 413.10,982.46 413.50,982.61 413.90,982.75 414.30,983.02 414.70,982.79 415.10,982.36 415.50,982.14 415.90,982.23 416.30,982.56 416.70,982.60 417.10,982.53 417.50,982.63 417.90,982.56 418.30,982.75 418.70,982.67 419.10,982.58 419.50,982.47 419.90,982.27 420.30,982.32 420.70,982.03 421.10,981.89 421.50,982.08 421.90,982.28 422.30,982.53 422.70,982.33 423.10,982.34 423.50,982.26 423.90,982.19 424.30,982.01 424.70,982.11 425.10,982.34 425.50,982.44 425.90,982.37 426.30,982.44 426.70,982.82 427.10,982.71 427.50,982.70 427.90,982.74 428.30,982.87 428.70,982.99 429.10,982.34 429.50,982.53 429.90,982.33 430.30,982.43 430.70,982.34 431.10,982.48 431.50,982.90 431.90,982.96 432.30,982.81 432.70,982.55 433.10,982.32 433.50,982.32 433.90,982.48 434.30,982.47 434.70,982.48 435.10,982.55 435.50,982.66 435.90,982.97 436.30,983.14 436.70,982.94 437.10,982.55 437.50,982.07 437.90,982.07 438.30,982.22 438.70,982.27 439.10,982.28 439.50,982.17 439.90,982.42 440.30,982.51 440.70,982.50 441.10,982.52 441.50,982.63 441.90,982.74 442.30,982.75 442.70,982.54 443.10,982.51 443.50,982.29 443.90,982.57 444.30,982.65 444.70,982.60 445.10,982.64 445.50,982.37 445.90,982.67 446.30,982.52 446.70,982.56 447.10,982.24 447.50,982.17 447.90,982.29 448.30,982.34 448.70,982.46 449.10,982.27 449.50,982.37 449.90,982.29 450.30,982.23 450.70,982.27 451.10,982.10 451.50,982.01 451.90,981.89 452.30,982.03 452.70,982.50 453.10,982.51 453.50,982.75 453.90,982.82 454.30,983.04 454.70,983.02 455.10,982.87 455.50,982.64 455.90,982.55 456.30,982.63 456.70,982.74 457.10,982.62 457.50,982.27 457.90,982.33 458.30,982.41 458.70,982.45 459.10,982.37 459.50,982.42 459.90,982.59 460.30,982.68 460.70,982.68 461.10,982.50 461.50,982.35 461.90,982.31 462.30,982.64 462.70,982.88 463.10,982.54 463.50,982.41 463.90,982.31 464.30,982.75 464.70,982.99 465.10,982.76 465.50,982.54 465.90,982.16 466.30,982.40 466.70,982.27 467.10,982.58 467.50,982.60 467.90,982.85 468.30,982.38 468.70,982.16 469.10,982.20 469.50,982.30 469.90,982.36 470.30,982.24 470.70,982.56 471.10,982.63 471.50,982.69 471.90,982.50 472.30,982.46 472.70,982.41 473.10,982.57 473.50,982.54 473.90,982.71 474.30,982.37 474.70,982.56 475.10,982.39 475.50,982.79 475.90,982.63 476.30,982.77 476.70,982.82 477.10,982.74 477.50,982.63 477.90,982.40 478.30,982.50 478.70,982.27 479.10,982.27 479.50,982.20 479.90,982.32 480.30,982.32 480.70,982.14 481.10,982.44 481.50,982.53 481.90,983.00 482.30,982.69 482.70,982.46 483.10,982.24 483.50,982.13 483.90,982.33 484.30,982.19 484.70,982.37 485.10,982.38 485.50,982.48 485.90,982.78 486.30,982.84 486.70,982.65 487.10,982.53 487.50,982.26 487.90,982.45 488.30,982.14 488.70,982.21 489.10,982.38 489.50,982.48 489.90,982.50 490.30,982.24 490.70,982.27 491.10,982.56 491.50,982.48 491.90,982.35 492.30,982.23 492.70,982.17 493.10,982.29 493.50,982.37 493.90,982.59 494.30,982.57 494.70,982.32 495.10,982.19 495.50,982.18 495.90,982.29 496.30,982.59 496.70,982.81 497.10,982.71 497.50,982.44 497.90,982.40 498.30,982.23 498.70,982.27 499.10,982.12 499.50,982.22 499.90,982.14 500.30,982.24 500.70,982.16 501.10,982.17 501.50,982.03 501.90,982.27 502.30,982.21 502.70,982.45 503.10,982.40 503.50,982.55 503.90,982.35 504.30,982.30 504.70,982.20 505.10,982.41 505.50,982.53 505.90,982.65 506.30,982.63 506.70,982.50 507.10,982.60 507.50,982.47 507.90,982.44 508.30,982.46 508.70,982.25 509.10,982.46 509.50,982.23 509.90,982.50 510.30,982.60 510.70,982.80 511.10,982.66 511.50,982.46 511.90,982.33 512.30,982.25 512.70,982.10 513.10,982.16 513.50,982.40 513.90,982.31 514.30,982.29 514.70,982.28 515.10,982.54 515.50,982.41 515.90,982.49 516.30,982.30 516.70,982.53 517.10,982.61 517.50,982.49 517.90,982.44 518.30,982.26 518.70,982.57 519.10,982.43 519.50,982.35 519.90,982.12 520.30,982.25 520.70,982.36 521.10,982.46 521.50,982.32 521.90,982.18 522.30,982.27 522.70,982.40 523.10,982.45 523.50,982.47 523.90,982.28 524.30,981.92 524.70,981.99 525.10,982.37 525.50,982.55 525.90,982.37 526.30,982.22 526.70,982.54 527.10,982.72 527.50,982.86 527.90,982.72 528.30,982.68 528.70,982.57 529.10,982.51 529.50,982.62 529.90,982.65 530.30,982.84 530.70,982.63 531.10,982.68 531.50,982.40 531.90,982.51 532.30,982.01 532.70,982.02 533.10,982.06 533.50,982.36 533.90,982.52 534.30,982.20 534.70,982.47 535.10,982.53 535.50,982.75 535.90,982.59 536.30,982.56 536.70,982.75 537.10,982.73 537.50,982.48 537.90,982.25 538.30,982.40 538.70,982.68 539.10,982.65 539.50,982.56 539.90,982.50 540.30,982.64 540.70,982.34 541.10,982.20 541.50,982.21 541.90,982.40 542.30,982.57 542.70,982.74 543.10,982.73 543.50,982.72 543.90,982.37 544.30,982.33 544.70,982.29 545.10,982.16 545.50,981.96 545.90,982.16 546.30,982.34 546.70,982.78 547.10,982.61 547.50,982.65 547.90,982.59 548.30,982.67 548.70,982.48 549.10,982.56 549.50,982.33 549.90,982.52 550.30,982.70 550.70,982.85 551.10,983.05 551.50,982.65 551.90,982.72 552.30,982.50 552.70,982.61 553.10,982.41 553.50,982.27 553.90,982.26 554.30,982.17 554.70,982.18 555.10,982.22 555.50,982.35 555.90,982.34 556.30,982.10 556.70,982.21 557.10,982.28 557.50,982.45 557.90,982.40 558.30,982.71 558.70,982.63 559.10,982.38 559.50,982.15 559.90,982.21 560.30,982.50 560.70,982.26 561.10,982.42 561.50,982.39 561.90,982.60 562.30,982.23 562.70,982.30 563.10,982.30 563.50,982.70 563.90,982.58 564.30,982.42 564.70,982.25 565.10,982.18 565.50,982.41 565.90,982.24 566.30,982.35 566.70,982.26 567.10,982.41 567.50,982.35 567.90,982.27 568.30,982.27 568.70,982.26 569.10,982.39 569.50,982.36 569.90,982.14 570.30,982.11 570.70,982.33 571.10,982.68 571.50,982.77 571.90,982.64 572.30,982.54 572.70,982.28 573.10,982.32 573.50,982.53 573.90,982.79 574.30,982.74 574.70,982.65 575.10,982.57 575.50,982.55 575.90,982.49 576.30,982.54 576.70,982.38 577.10,982.29 577.50,982.32 577.90,982.40 578.30,982.16 578.70,982.10 579.10,981.84 579.50,982.43 579.90,982.51 580.30,982.91 580.70,982.56 581.10,982.31 581.50,982.19 581.90,982.28 582.30,982.33 582.70,982.38 583.10,982.47 583.50,982.66 583.90,982.49 584.30,982.11 584.70,982.03 585.10,982.08 585.50,982.43 585.90,982.65 586.30,982.96 586.70,982.94 587.10,982.87 587.50,982.87 587.90,982.84 588.30,982.73 588.70,982.62 589.10,982.61 589.50,982.51 589.90,982.29 590.30,982.30 590.70,982.28 591.10,982.49 591.50,982.44 591.90,982.72 592.30,982.78 592.70,982.66 593.10,982.61 593.50,982.39 593.90,982.74 594.30,982.66 594.70,982.71 595.10,982.62 595.50,982.48 595.90,982.53 596.30,982.49 596.70,982.54 597.10,982.55 597.50,982.37 597.90,982.46 598.30,982.25 598.70,982.46 599.10,982.45 599.50,982.71 599.90,982.55 600.30,982.90 600.70,982.77 601.10,982.87 601.50,982.36 601.90,982.58 602.30,982.50 602.70,982.73 603.10,982.42 603.50,982.52 603.90,982.34 604.30,982.59 604.70,982.51 605.10,982.45 605.50,982.38 605.90,982.26 606.30,982.25 606.70,982.29 607.10,982.20 607.50,982.43 607.90,982.28 608.30,982.40 608.70,982.34 609.10,982.47 609.50,982.52 609.90,982.46 610.30,982.48 610.70,982.66 611.10,982.68 611.50,982.47 611.90,982.25 612.30,982.17 612.70,982.37 613.10,982.57 613.50,982.69 613.90,982.78 614.30,982.67 614.70,982.58 615.10,982.34 615.50,982.64 615.90,982.41 616.30,982.50 616.70,982.31 617.10,982.59 617.50,982.86 617.90,982.96 618.30,983.05 618.70,982.62 619.10,982.54 619.50,982.39 619.90,982.51 620.30,982.47 620.70,982.46 621.10,982.53 621.50,982.72 621.90,982.92 622.30,982.87 622.70,982.40 623.10,982.41 623.50,982.52 623.90,982.75 624.30,982.54 624.70,982.49 625.10,982.41 625.50,982.58 625.90,982.35 626.30,982.33 626.70,982.23 627.10,982.18 627.50,982.30 627.90,982.37 628.30,982.39 628.70,982.51 629.10,982.37 629.50,982.61 629.90,982.52 630.30,982.54 630.70,982.39 631.10,982.14 631.50,982.11 631.90,982.08 632.30,982.52 632.70,982.74 633.10,982.67 633.50,982.56 633.90,982.45 634.30,982.58 634.70,982.54 635.10,982.61 635.50,982.59 635.90,982.49 636.30,982.41 636.70,982.35 637.10,982.41 637.50,982.38 637.90,982.42 638.30,982.29 638.70,982.34 639.10,982.54 639.50,982.70 639.90,982.54 640.30,982.53 640.70,982.51 641.10,982.70 641.50,982.75 641.90,982.61 642.30,982.51 642.70,982.28 643.10,982.29 643.50,982.57 643.90,982.77 644.30,982.65 644.70,982.45 645.10,982.25 645.50,982.63 645.90,982.59 646.30,982.64 646.70,982.51 647.10,982.55 647.50,982.57 647.90,982.52 648.30,982.46 648.70,982.52 649.10,982.40 649.50,982.42 649.90,982.34 650.30,982.42 650.70,982.52 651.10,982.36 651.50,982.38 651.90,982.17 652.30,982.41 652.70,982.40 653.10,982.52 653.50,982.50 653.90,982.35 654.30,982.40 654.70,982.25 655.10,982.43 655.50,982.35 655.90,982.56 656.30,982.69 656.70,982.93 657.10,982.85 657.50,982.69 657.90,982.39 658.30,982.46 658.70,982.73 659.10,982.84 659.50,982.68 659.90,982.50 660.30,982.49 660.70,982.57 661.10,982.44 661.50,982.08 661.90,982.00 662.30,982.24 662.70,982.60 663.10,982.38 663.50,982.24 663.90,981.97 664.30,982.52 664.70,982.54 665.10,982.63 665.50,982.47 665.90,982.34 666.30,982.58 666.70,982.47 667.10,982.42 667.50,982.44 667.90,982.26 668.30,982.59 668.70,982.51 669.10,982.55 669.50,982.14 669.90,982.34 670.30,982.66 670.70,982.74 671.10,982.74 671.50,982.57 671.90,982.71 672.30,982.48 672.70,982.42 673.10,982.64 673.50,982.67 673.90,982.47 674.30,982.55 674.70,982.65 675.10,982.75 675.50,982.43 675.90,982.19 676.30,982.34 676.70,982.44 677.10,982.59 677.50,982.50 677.90,982.35 678.30,982.43 678.70,982.49 679.10,982.89 679.50,982.68 679.90,982.79 680.30,982.50 680.70,982.51 681.10,982.59 681.50,982.59 681.90,982.58 682.30,982.36 682.70,982.47 683.10,982.43 683.50,982.65 683.90,982.61 684.30,982.73 684.70,982.73 685.10,982.87 685.50,982.98 685.90,982.83 686.30,982.84 686.70,982.96 687.10,982.82 687.50,982.55 687.90,982.32 688.30,982.39 688.70,982.22 689.10,982.37 689.50,982.43 689.90,982.64 690.30,982.71 690.70,982.62 691.10,982.60 691.50,982.45 691.90,982.47 692.30,982.46 692.70,982.53 693.10,982.58 693.50,982.77 693.90,982.58 694.30,982.60 694.70,982.24 695.10,982.32 695.50,982.20 695.90,982.57 696.30,982.68 696.70,982.84 697.10,982.91 697.50,983.00 697.90,983.03 698.30,982.69 698.70,982.31 699.10,982.21 699.50,982.26 699.90,982.36 700.00,982.37"/><polyline fill="none" stroke="#000" stroke-width="1" stroke-linejoin="round" points="95.50,982.24 95.90,982.44 96.30,982.33 96.70,982.46 97.10,982.34 97.50,982.27 97.90,982.48 98.30,982.53 98.70,982.70 99.10,982.44 99.50,982.25 99.90,982.05 100.30,982.38 100.70,982.45 101.10,982.59 101.50,982.29 101.90,982.36 102.30,982.65 102.70,982.61 103.10,982.45 103.50,982.02 103.90,982.28 104.30,982.38 104.70,982.91 105.10,982.80 105.50,982.73 105.90,982.33 106.30,982.46 106.70,982.30 107.10,982.50 107.50,982.42 107.90,982.57 108.30,982.35 108.70,982.45 109.10,982.77 109.50,982.83 109.90,982.76 110.30,982.74 110.70,982.72 111.10,982.62 111.50,982.22 111.90,982.29 112.30,982.31 112.70,982.41 113.10,982.34 113.50,982.14 113.90,982.01 114.30,981.98 114.70,982.28 115.10,982.39 115.50,982.40 115.90,982.41 116.30,982.55 116.70,982.56 117.10,982.39 117.50,982.40 117.90,982.55 118.30,982.53 118.70,982.47 119.10,982.42 119.50,982.68 119.90,982.53 120.30,982.65 120.70,982.56 121.10,982.54 121.50,982.56 121.90,982.63 122.30,982.59 122.70,982.71 123.10,982.44 123.50,982.49 123.90,982.18 124.30,982.44 124.70,982.64 125.10,982.67 125.50,982.75 125.90,982.72 126.30,982.92 126.70,983.12 127.10,983.09 127.50,982.56 127.90,982.12 128.30,981.95 128.70,982.31 129.10,982.38 129.50,982.36 129.90,982.19 130.30,982.15 130.70,982.28 131.10,982.09 131.50,982.25 131.90,982.28 132.30,982.63 132.70,982.54 133.10,982.40 133.50,982.40 133.90,982.50 134.30,982.78 134.70,982.85 135.10,982.67 135.50,982.41 135.90,982.53 136.30,982.64 136.70,982.69 137.10,982.22 137.50,982.03 137.90,981.83 138.30,982.29 138.70,982.43 139.10,982.59 139.50,982.39 139.90,982.71 140.30,982.98 140.70,982.84 141.10,982.46 141.50,982.13 141.90,982.08 142.30,982.12 142.70,982.62 143.10,983.07 143.50,983.05 143.90,982.67 144.30,982.48 144.70,982.62 145.10,982.47 145.50,982.18 145.90,982.30 146.30,982.54 146.70,983.02 147.10,982.79 147.50,982.96 147.90,982.65 148.30,982.69 148.70,982.70 149.10,982.92 149.50,982.79 149.90,982.70 150.30,982.47 150.70,982.33 151.10,982.28 151.50,982.57 151.90,982.88 152.30,982.64 152.70,982.56 153.10,982.54 153.50,982.65 153.90,982.19 154.30,982.23 154.70,982.42 155.10,982.83 155.50,982.45 155.90,982.12 156.30,982.19 156.70,982.55 157.10,982.82 157.50,982.65 157.90,982.59 158.30,982.45 158.70,982.44 159.10,982.26 159.50,982.37 159.90,982.36 160.30,982.61 160.70,982.67 161.10,982.62 161.50,982.74 161.90,982.49 162.30,982.66 162.70,982.56 163.10,982.89 163.50,982.52 163.90,982.51 164.30,982.50 164.70,983.01 165.10,982.56 165.50,982.30 165.90,982.08 166.30,982.33 166.70,982.61 167.10,982.53 167.50,982.76 167.90,982.66 168.30,982.55 168.70,982.24 169.10,982.09 169.50,982.31 169.90,982.59 170.30,982.63 170.70,982.74 171.10,982.38 171.50,981.98 171.90,981.81 172.30,982.09 172.70,982.47 173.10,982.37 173.50,982.37 173.90,982.69 174.30,982.82 174.70,982.65 175.10,982.27 175.50,982.56 175.90,982.65 176.30,982.86 176.70,982.75 177.10,982.91 177.50,982.69 177.90,982.66 178.30,982.62 178.70,982.82 179.10,982.83 179.50,982.63 179.90,982.55 180.30,982.34 180.70,982.52 181.10,982.44 181.50,982.57 181.90,982.31 182.30,982.38 182.70,982.28 183.10,982.42 183.50,982.45 183.90,982.48 184.30,982.46 184.70,982.15 185.10,982.33 185.50,982.28 185.90,982.53 186.30,982.26 186.70,982.49 187.10,982.40 187.50,982.58 187.90,982.61 188.30,982.97 188.70,983.06 189.10,982.98 189.50,982.59 189.90,982.60 190.30,982.68 190.70,982.96 191.10,982.90 191.50,982.74 191.90,982.55 192.30,982.59 192.70,982.76 193.10,982.69 193.50,982.66 193.90,982.52 194.30,982.79 194.70,982.70 195.10,982.82 195.50,982.84 195.90,982.93 196.30,982.58 196.70,982.55 197.10,982.43 197.50,982.47 197.90,982.45 198.30,982.26 198.70,982.54 199.10,982.68 199.50,982.80 199.90,982.80 200.30,982.63 200.70,982.79 201.10,982.47 201.50,982.49 201.90,982.42 202.30,982.71 202.70,982.63 203.10,982.77 203.50,982.70 203.90,982.79 204.30,982.83 204.70,982.82 205.10,982.86 205.50,982.71 205.90,982.75 206.30,982.54 206.70,982.62 207.10,982.72 207.50,982.78 207.90,982.78 208.30,982.67 208.70,982.53 209.10,982.47 209.50,982.59 209.90,982.68 210.30,982.38 210.70,982.23 211.10,982.21 211.50,982.71 211.90,982.68 212.30,982.77 212.70,982.42 213.10,982.46 213.50,982.38 213.90,982.35 214.30,982.30 214.70,982.27 215.10,982.58 215.50,982.42 215.90,982.53 216.30,982.25 216.70,982.22 217.10,982.46 217.50,982.26 217.90,982.65 218.30,982.23 218.70,982.53 219.10,982.64 219.50,982.55 219.90,982.34 220.30,982.21 220.70,982.53 221.10,982.64 221.50,982.46 221.90,982.30 222.30,982.39 222.70,982.60 223.10,982.68 223.50,982.69 223.90,982.65 224.30,982.97 224.70,982.87 225.10,982.75 225.50,982.40 225.90,982.39 226.30,982.29 226.70,982.28 227.10,982.14 227.50,981.92 227.90,981.90 228.30,982.16 228.70,982.60 229.10,982.63 229.50,982.59 229.90,982.51 230.30,982.68 230.70,982.69 231.10,982.59 231.50,982.75 231.90,982.72 232.30,982.66 232.70,982.18 233.10,982.28 233.50,982.32 233.90,982.80 234.30,982.69 234.70,982.84 235.10,982.71 235.50,982.98 235.90,982.69 236.30,982.78 236.70,982.55 237.10,982.72 237.50,982.46 237.90,982.40 238.30,982.37 238.70,982.09 239.10,982.22 239.50,982.27 239.90,982.46 240.30,982.38 240.70,982.69 241.10,982.87 241.50,982.83 241.90,982.75 242.30,982.59 242.70,982.62 243.10,982.31 243.50,982.39 243.90,982.51 244.30,982.66 244.70,982.59 245.10,982.48 245.50,982.41 245.90,982.45 246.30,982.47 246.70,982.35 247.10,982.31 247.50,982.32 247.90,982.28 248.30,982.44 248.70,982.40 249.10,982.42 249.50,982.28 249.90,982.24 250.30,982.34 250.70,982.44 251.10,982.48 251.50,982.38 251.90,982.56 252.30,982.71 252.70,982.85 253.10,982.78 253.50,982.70 253.90,982.65 254.30,982.53 254.70,982.85 255.10,983.02 255.50,983.15 255.90,982.74 256.30,982.68 256.70,982.85 257.10,982.96 257.50,983.02 257.90,982.89 258.30,982.92 258.70,982.99 259.10,982.85 259.50,982.83 259.90,982.53 260.30,982.85 260.70,982.83 261.10,982.93 261.50,982.76 261.90,982.65 262.30,982.63 262.70,982.34 263.10,982.41 263.50,982.36 263.90,982.54 264.30,982.52 264.70,982.49 265.10,982.37 265.50,982.37 265.90,982.39 266.30,982.55 266.70,982.66 267.10,982.75 267.50,982.46 267.90,982.44 268.30,982.25 268.70,982.43 269.10,982.37 269.50,982.46 269.90,982.33 270.30,982.23 270.70,982.58 271.10,982.66 271.50,982.73 271.90,982.58 272.30,982.67 272.70,982.84 273.10,982.55 273.50,982.34 273.90,982.65 274.30,982.81 274.70,982.92 275.10,982.49 275.50,982.63 275.90,982.51 276.30,982.52 276.70,982.38 277.10,982.64 277.50,982.62 277.90,982.55 278.30,982.35 278.70,981.99 279.10,982.20 279.50,982.12 279.90,982.39 280.30,982.48 280.70,982.62 281.10,982.76 281.50,982.51 281.90,982.66 282.30,982.58 282.70,982.54 283.10,982.63 283.50,982.59 283.90,982.48 284.30,982.25 284.70,982.36 285.10,982.39 285.50,982.54 285.90,982.57 286.30,983.01 286.70,982.81 287.10,982.80 287.50,982.29 287.90,982.32 288.30,982.24 288.70,982.52 289.10,982.57 289.50,982.55 289.90,982.41 290.30,982.36 290.70,982.41 291.10,982.57 291.50,982.71 291.90,982.81 292.30,982.89 292.70,982.56 293.10,982.36 293.50,982.18 293.90,982.33 294.30,982.54 294.70,982.67 295.10,982.74 295.50,982.61 295.90,982.68 296.30,982.65 296.70,982.59 297.10,982.54 297.50,982.65 297.90,982.89 298.30,982.81 298.70,982.85 299.10,982.59 299.50,982.41 299.90,982.31 300.30,982.03 300.70,982.21 301.10,982.34 301.50,982.71 301.90,982.62 302.30,982.64 302.70,982.62 303.10,982.78 303.50,982.93 303.90,983.03 304.30,983.03 304.70,982.80 305.10,982.74 305.50,982.65 305.90,982.59 306.30,982.70 306.70,982.45 307.10,982.40 307.50,982.35 307.90,982.45 308.30,982.47 308.70,982.29 309.10,982.46 309.50,982.59 309.90,982.88 310.30,982.89 310.70,982.68 311.10,982.52 311.50,982.52 311.90,982.81 312.30,982.49 312.70,982.46 313.10,982.03 313.50,982.41 313.90,982.42 314.30,982.73 314.70,982.76 315.10,982.75 315.50,982.59 315.90,982.52 316.30,982.63 316.70,982.70 317.10,982.66 317.50,982.34 317.90,982.51 318.30,982.44 318.70,982.50 319.10,982.28 319.50,982.24 319.90,982.30 320.30,982.53 320.70,982.75 321.10,982.98 321.50,983.01 321.90,982.78 322.30,982.65 322.70,982.66 323.10,983.08 323.50,982.83 323.90,982.44 324.30,982.19 324.70,982.34 325.10,982.40 325.50,982.38 325.90,982.32 326.30,982.15 326.70,982.10 327.10,982.22 327.50,982.61 327.90,982.74 328.30,982.75 328.70,982.63 329.10,982.41 329.50,982.17 329.90,982.14 330.30,982.36 330.70,982.67 331.10,983.00 331.50,982.85 331.90,982.52 332.30,982.36 332.70,982.52 333.10,982.60 333.50,982.28 333.90,982.16 334.30,982.41 334.70,982.47 335.10,982.41 335.50,982.21 335.90,982.20 336.30,982.07 336.70,982.19 337.10,982.30 337.50,982.39 337.90,982.02 338.30,982.30 338.70,982.27 339.10,982.60 339.50,982.21 339.90,982.39 340.30,982.20 340.70,982.37 341.10,982.29 341.50,982.62 341.90,982.46 342.30,982.40 342.70,982.24 343.10,982.67 343.50,982.56 343.90,982.63 344.30,982.26 344.70,982.50 345.10,982.55 345.50,982.65 345.90,982.65 346.30,982.60 346.70,982.50 347.10,982.44 347.50,982.18 347.90,982.21 348.30,982.13 348.70,982.32 349.10,982.47 349.50,982.62 349.90,982.72 350.30,982.77 350.70,982.40 351.10,982.39 351.50,982.24 351.90,982.54 352.30,982.31 352.70,982.39 353.10,982.56 353.50,982.87 353.90,982.78 354.30,982.71 354.70,982.70 355.10,982.95 355.50,983.03 355.90,982.93 356.30,982.70 356.70,982.56 357.10,982.57 357.50,982.49 357.90,982.57 358.30,982.45 358.70,982.41 359.10,982.35 359.50,982.37 359.90,982.44 360.30,982.12 360.70,982.30 361.10,982.33 361.50,982.59 361.90,982.55 362.30,982.57 362.70,982.50 363.10,982.70 363.50,982.62 363.90,982.84 364.30,982.82 364.70,982.79 365.10,982.68 365.50,982.32 365.90,982.54 366.30,982.49 366.70,982.45 367.10,982.49 367.50,982.65 367.90,982.68 368.30,982.66 368.70,982.57 369.10,983.05 369.50,983.12 369.90,983.02 370.30,982.62 370.70,982.27 371.10,982.37 371.50,982.41 371.90,982.62 372.30,982.62 372.70,982.41 373.10,982.21 373.50,982.38 373.90,982.74 374.30,982.82 374.70,982.62 375.10,982.44 375.50,982.46 375.90,982.26 376.30,982.40 376.70,982.31 377.10,982.55 377.50,982.09 377.90,982.21 378.30,982.37 378.70,982.41 379.10,982.58 379.50,982.47 379.90,982.67 380.30,982.25 380.70,982.35 381.10,982.48 381.50,982.77 381.90,982.58 382.30,982.44 382.70,982.47 383.10,982.38 383.50,982.61 383.90,982.27 384.30,982.27 384.70,981.96 385.10,982.36 385.50,982.25 385.90,982.29 386.30,982.20 386.70,982.47 387.10,982.91 387.50,983.07 387.90,983.12 388.30,982.92 388.70,982.43 389.10,982.23 389.50,982.09 389.90,982.31 390.30,982.25 390.70,982.17 391.10,982.08 391.50,982.40 391.90,982.59 392.30,982.65 392.70,982.48 393.10,982.46 393.50,982.41 393.90,982.41 394.30,982.14 394.70,982.32 395.10,982.49 395.50,982.77 395.90,982.74 396.30,982.66 396.70,982.89 397.10,982.85 397.50,982.62 397.90,982.21 398.30,982.28 398.70,982.60 399.10,982.84 399.50,982.86 399.90,982.74 400.30,982.44 400.70,982.23 401.10,981.96 401.50,982.11 401.90,982.02 402.30,982.28 402.70,982.31 403.10,982.23 403.50,982.31 403.90,982.44 404.30,982.51 404.70,982.43 405.10,982.43 405.50,982.57 405.90,982.67 406.30,982.60 406.70,982.78 407.10,982.69 407.50,982.64 407.90,982.57 408.30,982.65 408.70,982.70 409.10,982.58 409.50,982.36 409.90,982.28 410.30,982.26 410.70,982.40 411.10,982.47 411.50,982.53 411.90,982.51 412.30,982.51 412.70,982.73 413.10,982.89 413.50,982.79 413.90,982.64 414.30,982.43 414.70,982.49 415.10,982.40 415.50,982.36 415.90,982.19 416.30,981.89 416.70,982.01 417.10,982.35 417.30,982.56 417.50,982.51 417.90,981.69 418.30,980.78 418.70,979.24 418.80,978.89 419.10,977.09 419.50,973.03 419.90,968.33 420.30,963.56 420.70,959.67 421.10,956.37 421.50,952.97 421.90,950.47 422.30,948.71 422.50,948.41 422.70,948.54 423.10,950.48 423.50,953.75 423.90,957.79 424.20,960.48 424.30,961.19 424.70,963.97 425.10,967.03 425.50,970.19 425.90,972.56 426.00,972.84 426.30,974.26 426.70,976.00 427.10,977.21 427.50,977.76 427.90,978.28 428.00,978.67 428.30,979.37 428.70,979.91 429.10,980.07 429.50,980.38 429.90,980.82 430.30,981.28 430.70,981.39 431.00,981.50 431.10,981.53 431.50,981.57 431.90,981.63 432.30,981.58 432.70,981.98 433.10,982.13 433.50,982.26 433.90,982.24 434.30,982.41 434.70,982.31 435.10,982.31 435.50,982.39 435.90,982.48 436.00,982.48 436.30,982.06 436.70,982.26 437.10,981.96 437.50,981.93 437.90,981.87 438.30,982.21 438.70,982.48 439.10,982.62 439.50,982.75 439.90,982.80 440.30,982.84 440.70,982.55 441.10,982.43 441.50,982.77 441.90,983.21 442.30,983.35 442.70,983.01 443.10,982.84 443.50,982.67 443.90,982.84 444.30,982.65 444.70,982.69 445.10,982.72 445.50,982.49 445.90,982.55 446.30,982.02 446.70,982.21 447.10,982.15 447.50,982.34 447.90,982.45 448.30,982.36 448.70,982.39 449.10,982.20 449.50,982.26 449.90,982.08 450.30,982.33 450.70,982.21 451.10,982.49 451.50,982.35 451.80,982.48 451.90,982.49 452.30,981.19 452.70,978.44 453.10,975.48 453.20,974.39 453.50,972.17 453.90,967.64 454.30,963.52 454.70,960.67 454.90,960.26 455.10,960.99 455.50,962.62 455.90,965.48 456.30,967.88 456.40,968.36 456.70,969.45 457.10,971.47 457.50,973.47 457.90,975.25 458.20,975.96 458.30,976.06 458.70,976.91 459.10,977.62 459.50,978.27 459.90,978.88 460.30,979.76 460.50,980.42 460.70,980.66 461.10,980.85 461.50,981.10 461.90,981.67 462.30,982.04 462.70,982.19 463.10,982.18 463.50,982.45 463.90,982.95 464.00,982.92 464.30,982.48 464.70,982.23 465.10,982.30 465.50,982.61 465.90,982.67 466.30,982.69 466.70,982.48 467.10,982.04 467.50,982.02 467.90,982.05 468.30,982.36 468.70,982.19 469.10,982.30 469.50,982.06 469.90,982.18 470.30,982.17 470.70,982.46 471.10,982.70 471.50,982.73 471.90,982.53 472.30,982.61 472.70,981.42 473.10,978.60 473.50,974.83 473.70,973.36 473.90,971.71 474.30,967.49 474.70,963.11 475.10,959.72 475.40,958.69 475.50,958.63 475.90,960.08 476.30,962.56 476.70,965.32 477.00,967.04 477.10,967.48 477.50,969.32 477.90,971.56 478.30,973.64 478.70,975.27 478.80,975.52 479.10,976.28 479.50,977.37 479.90,977.88 480.30,978.37 480.70,978.88 481.10,979.86 481.20,980.01 481.50,980.35 481.90,980.36 482.30,980.79 482.70,981.23 483.10,981.41 483.50,981.35 483.90,981.62 484.30,982.07 484.70,982.48 485.00,982.54 485.10,982.68 485.50,982.47 485.90,982.31 486.30,982.33 486.70,982.53 487.10,982.51 487.50,982.49 487.90,982.54 488.30,982.42 488.70,982.19 489.10,982.04 489.50,982.29 489.90,982.14 490.30,982.47 490.70,982.16 491.10,982.41 491.50,982.06 491.60,982.25 491.90,981.28 492.30,977.48 492.70,971.76 493.10,965.32 493.50,956.80 493.90,945.36 494.30,933.99 494.70,925.03 495.10,921.57 495.50,924.54 495.90,931.85 496.30,940.03 496.60,945.31 496.70,946.52 497.10,952.64 497.50,958.59 497.90,964.11 498.30,968.08 498.40,969.04 498.70,970.54 499.10,972.87 499.50,974.26 499.90,975.88 500.30,976.62 500.60,976.96 500.70,976.96 501.10,977.83 501.50,978.58 501.90,979.39 502.30,979.63 502.70,980.38 503.10,980.68 503.30,980.69 503.50,980.92 503.90,981.05 504.30,981.44 504.70,981.73 505.10,982.50 505.50,982.82 505.90,982.94 506.30,982.54 506.70,982.44 507.00,982.42 507.10,982.64 507.50,982.76 507.90,982.85 508.30,982.61 508.70,982.93 509.10,982.58 509.50,982.69 509.90,982.41 510.30,982.68 510.60,982.44 510.70,982.12 511.10,980.09 511.50,976.53 511.90,972.02 512.10,969.68 512.30,967.09 512.70,959.93 513.10,951.68 513.50,944.74 513.90,941.71 514.30,943.61 514.70,947.31 515.10,951.69 515.50,955.19 515.90,958.47 516.30,961.66 516.70,964.17 517.10,966.36 517.40,967.72 517.50,968.34 517.90,969.97 518.30,971.62 518.70,973.00 519.10,974.52 519.50,975.69 519.80,976.34 519.90,976.26 520.30,976.98 520.70,977.98 521.10,978.93 521.50,979.55 521.90,979.49 522.30,979.76 522.50,979.85 522.70,980.43 523.10,980.66 523.50,981.03 523.90,981.29 524.30,982.11 524.70,982.50 525.10,982.75 525.50,982.49 525.90,982.43 526.00,982.49 526.30,982.44 526.70,982.45 527.10,982.57 527.50,982.74 527.90,982.79 528.30,982.83 528.70,982.75 529.10,982.56 529.50,982.13 529.90,982.00 530.30,982.13 530.70,982.43 531.10,982.68 531.50,982.61 531.90,982.44 532.30,982.40 532.70,982.64 533.10,982.69 533.50,982.63 533.90,982.32 534.30,981.58 534.70,980.40 535.10,978.75 535.30,978.37 535.50,977.92 535.90,976.88 536.30,975.28 536.70,974.03 537.00,973.73 537.10,973.80 537.50,974.56 537.90,975.21 538.30,976.36 538.70,977.02 539.10,978.07 539.50,978.47 539.90,979.22 540.30,979.83 540.70,980.42 541.10,980.47 541.50,980.53 541.90,980.82 542.30,981.04 542.70,981.06 543.10,981.18 543.50,981.38 543.90,981.81 544.30,981.74 544.70,981.74 545.10,981.65 545.50,982.13 545.90,982.35 546.30,982.52 546.70,982.39 547.00,982.38 547.10,982.54 547.50,982.53 547.90,982.72 548.30,982.33 548.70,982.06 549.10,981.62 549.50,981.83 549.90,982.04 550.30,982.53 550.70,982.76 551.10,982.76 551.50,982.62 551.90,982.47 552.30,982.72 552.70,982.65 553.10,982.67 553.50,982.42 553.90,982.49 554.30,982.52 554.70,982.44 555.10,982.34 555.50,982.32 555.90,982.42 556.30,982.54 556.70,982.43 557.10,982.50 557.50,982.48 557.90,982.61 558.30,982.60 558.70,982.86 559.10,982.93 559.50,982.99 559.90,982.75 560.30,982.59 560.70,982.39 561.10,982.82 561.50,982.77 561.90,982.93 562.30,982.72 562.70,982.56 563.10,982.37 563.50,982.12 563.90,982.18 564.30,982.11 564.70,982.10 565.10,982.42 565.50,982.70 565.90,982.77 566.30,982.60 566.70,982.26 567.10,982.36 567.50,982.41 567.90,982.49 568.30,982.42 568.70,982.34 569.10,982.42 569.50,982.25 569.90,982.18 570.30,982.12 570.70,982.32 571.10,982.47 571.50,982.65 571.90,982.56 572.30,982.45 572.70,982.69 573.10,982.46 573.50,982.68 573.90,982.44 574.30,982.71 574.70,982.48 575.10,982.40 575.50,982.22 575.90,982.10 576.30,982.11 576.70,982.05 577.10,982.36 577.50,982.53 577.90,982.28 578.30,981.94 578.70,981.83 579.10,982.34 579.50,982.57 579.90,982.59 580.30,982.67 580.70,982.77 581.10,982.96 581.50,982.86 581.90,982.86 582.30,982.39 582.70,982.36 583.10,982.07 583.50,982.49 583.90,982.84 584.30,983.09 584.70,982.71 585.10,982.37 585.50,982.30 585.90,982.51 586.30,982.67 586.70,982.80 587.10,982.40 587.50,982.44 587.90,982.24 588.30,982.53 588.70,982.54 589.10,982.57 589.50,982.46 589.90,982.07 590.30,982.12 590.70,982.44 591.10,982.84 591.50,982.80 591.90,982.61 592.30,982.63 592.70,982.59 593.10,982.86 593.50,982.66 593.90,982.76 594.30,982.52 594.70,982.53 595.10,982.43 595.50,982.37 595.90,982.31 596.30,982.29 596.70,982.42 597.10,982.45 597.50,982.51 597.90,982.44 598.30,982.39 598.70,982.67 599.10,982.70 599.50,982.65 599.90,982.36 600.30,982.46 600.70,982.51 601.10,982.53 601.50,982.41 601.90,982.46 602.30,982.53 602.70,982.63 603.10,982.38 603.50,982.17 603.90,981.74 604.30,982.09 604.70,982.39 605.10,982.94 605.50,982.85 605.90,982.85 606.30,982.67 606.70,982.63 607.10,982.25 607.50,982.15 607.90,982.08 608.30,982.43 608.70,982.77 609.10,982.78 609.50,982.71 609.90,982.52 610.30,982.47 610.70,982.18 611.10,982.04 611.50,981.94 611.90,982.14 612.30,982.22 612.70,982.40 613.10,982.42 613.50,982.51 613.90,982.40 614.30,982.55 614.70,982.25 615.10,982.39 615.50,982.32 615.90,982.44 616.30,982.21 616.70,982.24 617.10,982.26 617.50,982.59 617.90,982.61 618.30,982.70 618.70,982.60 619.10,982.63 619.50,982.68 619.90,982.55 620.30,982.43 620.70,982.46 621.10,982.62 621.50,982.62 621.90,982.52 622.30,982.48 622.70,982.32 623.10,982.14 623.50,982.32 623.90,982.36 624.30,982.59 624.70,982.22 625.10,982.33 625.50,982.19 625.90,982.81 626.30,982.64 626.70,982.63 627.10,982.34 627.50,982.64 627.90,982.48 628.30,982.39 628.70,982.35 629.10,982.48 629.50,982.54 629.90,982.34 630.30,982.37 630.70,982.23 631.10,982.24 631.50,982.18 631.90,982.54 632.30,982.54 632.70,982.63 633.10,982.44 633.50,982.49 633.90,982.78 634.30,982.63 634.70,982.69 635.10,982.51 635.50,982.57 635.90,982.50 636.30,982.47 636.70,982.68 637.10,982.61 637.50,982.55 637.90,982.27 638.30,982.44 638.70,982.58 639.10,982.75 639.50,982.49 639.90,982.47 640.30,982.31 640.70,982.46 641.10,982.45 641.50,982.20 641.90,982.28 642.30,982.27 642.70,982.35 643.10,982.30 643.50,982.49 643.90,982.64 644.30,982.73 644.70,982.48 645.10,982.43 645.50,982.22 645.90,982.19 646.30,982.49 646.70,982.73 647.10,982.68 647.50,982.64 647.90,982.51 648.30,982.51 648.70,982.43 649.10,982.33 649.50,982.20 649.90,982.32 650.30,982.20 650.70,982.49 651.10,982.10 651.50,982.35 651.90,982.25 652.30,982.40 652.70,982.10 653.10,982.11 653.50,982.17 653.90,982.34 654.30,982.35 654.70,982.49 655.10,982.52 655.50,982.56 655.90,982.27 656.30,982.42 656.70,982.47 657.10,982.97 657.50,983.05 657.90,983.02 658.30,982.87 658.70,982.61 659.10,982.69 659.50,982.42 659.90,982.48 660.30,982.48 660.70,982.59 661.10,982.86 661.50,982.51 661.90,982.51 662.30,982.25 662.70,982.42 663.10,982.12 663.50,982.32 663.90,982.39 664.30,982.51 664.70,982.20 665.10,982.05 665.50,982.38 665.90,982.55 666.30,982.62 666.70,982.50 667.10,982.52 667.50,982.59 667.90,982.63 668.30,982.67 668.70,982.76 669.10,982.50 669.50,982.46 669.90,982.29 670.30,982.47 670.70,982.45 671.10,982.42 671.50,982.35 671.90,982.49 672.30,982.50 672.70,982.38 673.10,982.33 673.50,982.54 673.90,982.67 674.30,982.61 674.70,982.36 675.10,982.37 675.50,982.51 675.90,982.73 676.30,982.78 676.70,982.59 677.10,982.26 677.50,982.28 677.90,982.38 678.30,982.75 678.70,982.98 679.10,982.97 679.50,982.96 679.90,982.53 680.30,982.64 680.70,982.63 681.10,982.97 681.50,982.90 681.90,982.84 682.30,982.86 682.70,982.67 683.10,982.70 683.50,982.65 683.90,982.63 684.30,982.38 684.70,982.30 685.10,982.42 685.50,982.66 685.90,982.69 686.30,982.57 686.70,982.53 687.10,982.60 687.50,982.65 687.90,982.57 688.30,982.26 688.70,982.42 689.10,982.73 689.50,982.70 689.90,982.69 690.30,982.54 690.70,982.66 691.10,982.50 691.50,982.24 691.90,982.20 692.30,982.28 692.70,982.51 693.10,982.63 693.50,982.73 693.90,982.67 694.30,982.49 694.70,982.57 695.10,982.71 695.50,982.77 695.90,982.81 696.30,982.72 696.70,982.83 697.10,982.85 697.50,982.45 697.90,982.21 698.30,982.05 698.70,982.35 699.10,982.44 699.50,982.55 699.90,982.65 700.00,982.78"/><line x1="422.6" y1="972" x2="422.6" y2="982" stroke="#000" stroke-width="1"/><g font-size="15.6"><text x="159.6" y="612.8">glucose</text><text x="254.7" y="651">sucrose</text><text x="130" y="711.8">fructose</text><text x="302.7" y="853.4" font-size="16.9">isomaltulose</text><text x="450" y="748.3">maltodextrins</text></g><text x="640.6" y="626" font-size="26.8">B</text><text x="592.6" y="1068.8" font-size="18.1">time (min)</text><g stroke="#000" stroke-width="0.9" fill="#000"><line x1="193.0" y1="623.5" x2="209.3" y2="747.7"/><polygon points="210.7,758.1 206.8,748.0 211.9,747.4"/><line x1="193.0" y1="623.5" x2="202.8" y2="786.5"/><polygon points="203.4,797.0 200.2,786.7 205.3,786.4"/><line x1="275.2" y1="662.0" x2="280.4" y2="722.6"/><polygon points="281.3,733.1 277.9,722.9 282.9,722.4"/><line x1="146.5" y1="723.2" x2="189.7" y2="800.7"/><polygon points="194.8,809.9 187.5,802.0 191.9,799.5"/><line x1="146.5" y1="723.2" x2="177.2" y2="896.3"/><polygon points="179.1,906.6 174.7,896.7 179.7,895.8"/><line x1="335.7" y1="864.5" x2="315.2" y2="889.4"/><polygon points="308.5,897.5 313.2,887.8 317.1,891.0"/><line x1="488.6" y1="767.3" x2="436.6" y2="883.7"/><polygon points="432.3,893.3 434.3,882.7 438.9,884.8"/><line x1="488.6" y1="767.3" x2="449.0" y2="924.5"/><polygon points="446.4,934.7 446.5,923.9 451.4,925.1"/><line x1="488.6" y1="767.3" x2="469.5" y2="911.6"/><polygon points="468.1,922.0 467.0,911.3 472.0,911.9"/><line x1="488.6" y1="767.3" x2="485.7" y2="890.4"/><polygon points="485.5,900.9 483.2,890.3 488.3,890.5"/><line x1="488.6" y1="767.3" x2="501.1" y2="902.2"/><polygon points="502.1,912.7 498.6,902.5 503.7,902.0"/><line x1="488.6" y1="767.3" x2="513.2" y2="885.8"/><polygon points="515.3,896.1 510.7,886.3 515.7,885.3"/></g></g></svg>
</body>
</html>
